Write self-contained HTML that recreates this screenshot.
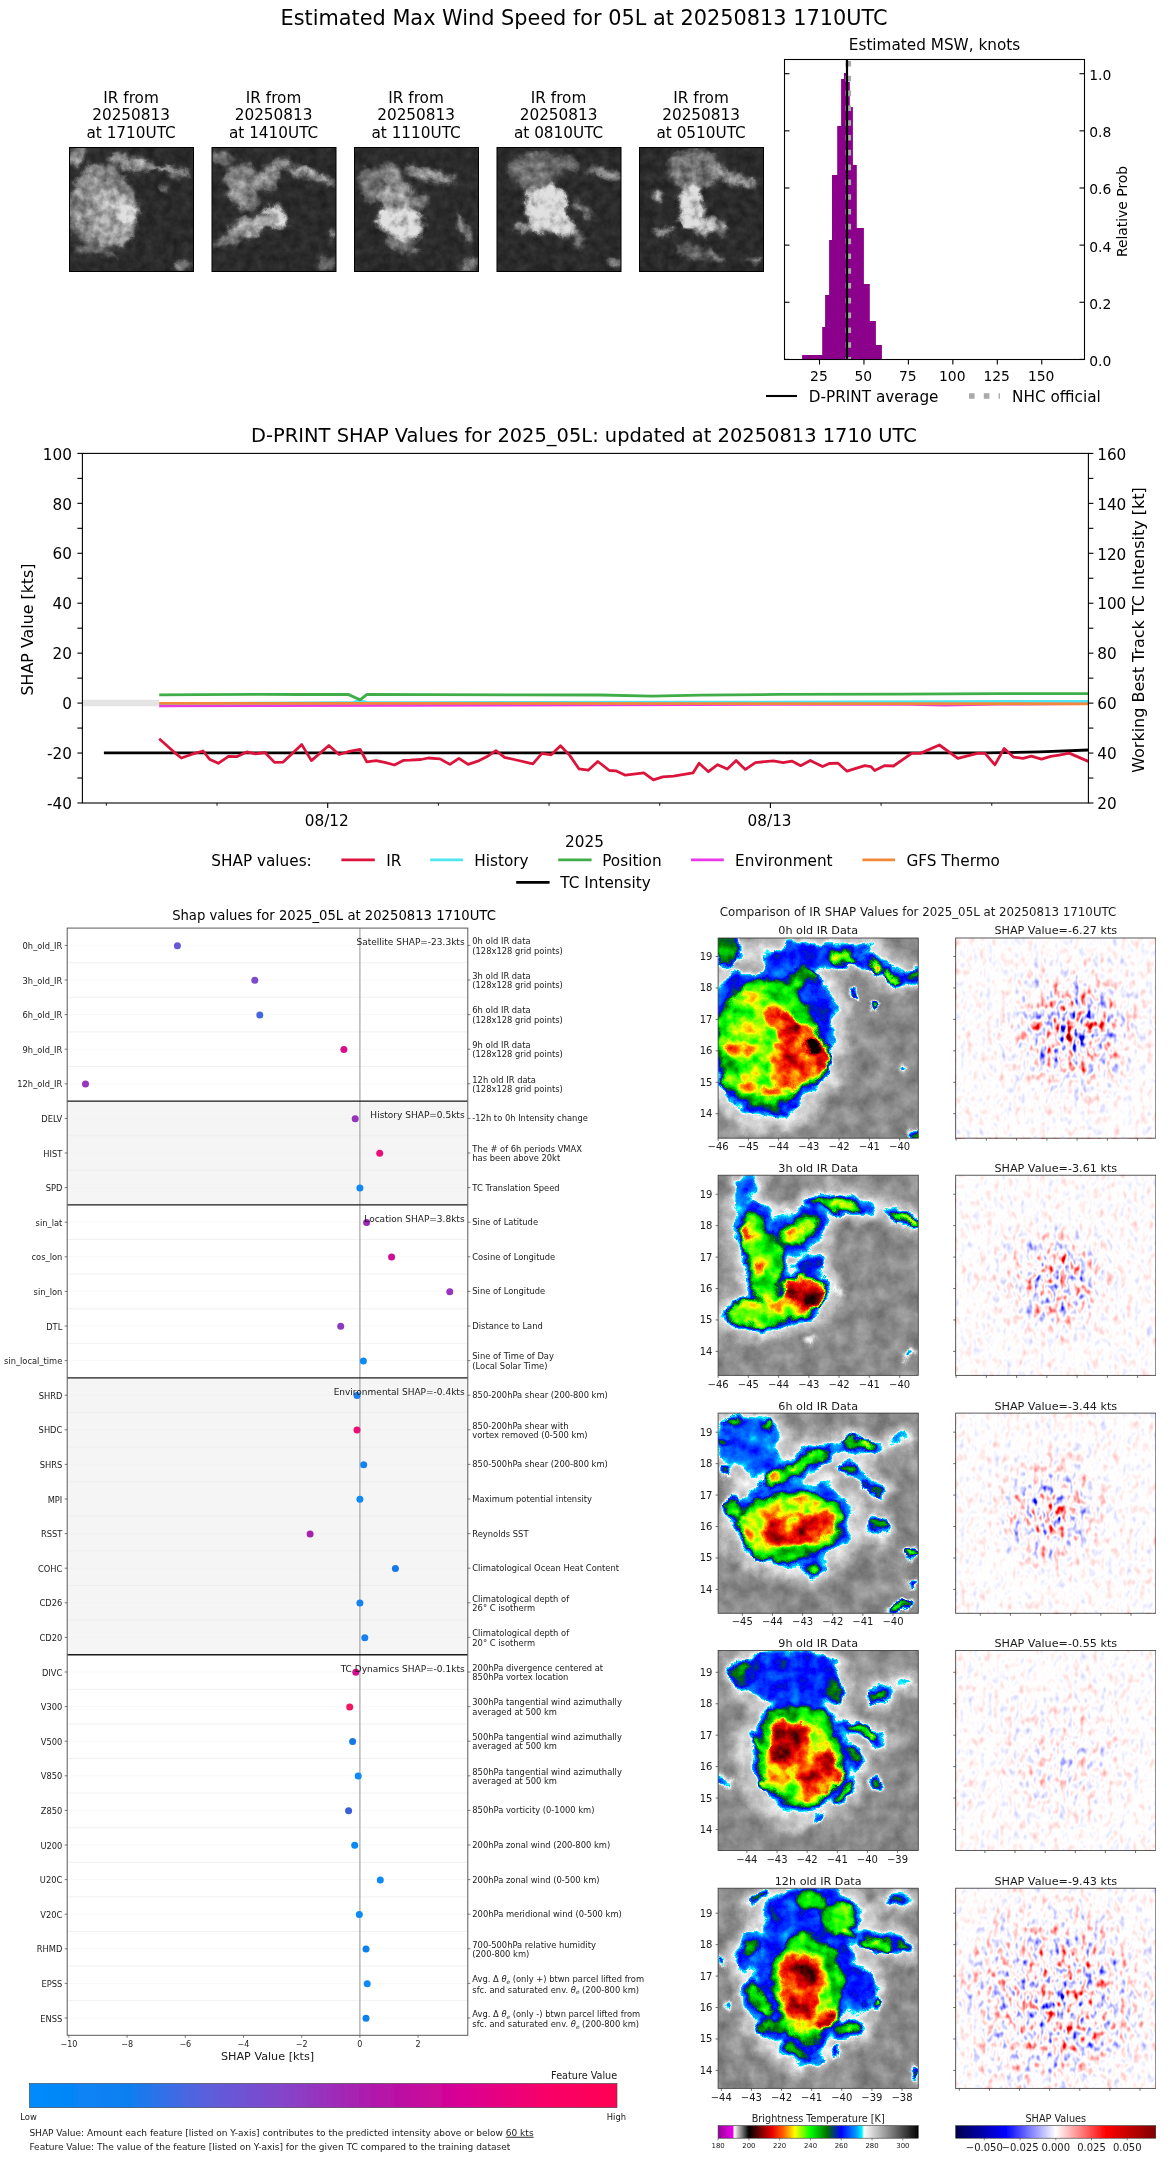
<!DOCTYPE html>
<html lang="en"><head><meta charset="utf-8"><title>D-PRINT 05L</title>
<style>html,body{margin:0;padding:0;background:#fff}svg{display:block}text{font-family:'DejaVu Sans','Liberation Sans',sans-serif}#s3,#s4{filter:url(#soft)}</style></head>
<body><svg width="1168" height="2158" viewBox="0 0 1168 2158">
<defs><filter id="soft" x="0" y="0" width="1" height="1"><feGaussianBlur stdDeviation="0.35"/></filter>
<filter id="th0" x="0" y="0" width="1" height="1" filterUnits="objectBoundingBox" color-interpolation-filters="sRGB">
<feTurbulence type="fractalNoise" baseFrequency="0.035" numOctaves="3" seed="11" result="t1"/>
<feGaussianBlur in="SourceGraphic" stdDeviation="2.2" result="b"/>
<feDisplacementMap in="b" in2="t1" scale="14" xChannelSelector="R" yChannelSelector="G" result="d0"/>
<feTurbulence type="fractalNoise" baseFrequency="0.12" numOctaves="2" seed="50" result="t3"/>
<feDisplacementMap in="d0" in2="t3" scale="8" xChannelSelector="G" yChannelSelector="B" result="d"/>
<feTurbulence type="fractalNoise" baseFrequency="0.11" numOctaves="4" seed="3" result="t2"/>
<feColorMatrix in="t2" type="matrix" values="1 0 0 0 0  1 0 0 0 0  1 0 0 0 0  0 0 0 0 1" result="n"/>
<feComposite in="d" in2="n" operator="arithmetic" k1="1.0" k2="0.40" k3="0.03" k4="0.06" result="c"/>
<feComponentTransfer in="c"><feFuncR type="table" tableValues="0.02 0.1 0.2 0.3 0.4 0.5 0.6 0.7 0.78 0.84 0.88"/><feFuncG type="table" tableValues="0.02 0.1 0.2 0.3 0.4 0.5 0.6 0.7 0.78 0.84 0.88"/><feFuncB type="table" tableValues="0.02 0.1 0.2 0.3 0.4 0.5 0.6 0.7 0.78 0.84 0.88"/></feComponentTransfer>
</filter><clipPath id="clth0"><rect x="69.50" y="147.50" width="124.00" height="124.00"/></clipPath>
<filter id="th1" x="0" y="0" width="1" height="1" filterUnits="objectBoundingBox" color-interpolation-filters="sRGB">
<feTurbulence type="fractalNoise" baseFrequency="0.035" numOctaves="3" seed="18" result="t1"/>
<feGaussianBlur in="SourceGraphic" stdDeviation="2.2" result="b"/>
<feDisplacementMap in="b" in2="t1" scale="14" xChannelSelector="R" yChannelSelector="G" result="d0"/>
<feTurbulence type="fractalNoise" baseFrequency="0.12" numOctaves="2" seed="51" result="t3"/>
<feDisplacementMap in="d0" in2="t3" scale="8" xChannelSelector="G" yChannelSelector="B" result="d"/>
<feTurbulence type="fractalNoise" baseFrequency="0.11" numOctaves="4" seed="8" result="t2"/>
<feColorMatrix in="t2" type="matrix" values="1 0 0 0 0  1 0 0 0 0  1 0 0 0 0  0 0 0 0 1" result="n"/>
<feComposite in="d" in2="n" operator="arithmetic" k1="1.0" k2="0.40" k3="0.03" k4="0.06" result="c"/>
<feComponentTransfer in="c"><feFuncR type="table" tableValues="0.02 0.1 0.2 0.3 0.4 0.5 0.6 0.7 0.78 0.84 0.88"/><feFuncG type="table" tableValues="0.02 0.1 0.2 0.3 0.4 0.5 0.6 0.7 0.78 0.84 0.88"/><feFuncB type="table" tableValues="0.02 0.1 0.2 0.3 0.4 0.5 0.6 0.7 0.78 0.84 0.88"/></feComponentTransfer>
</filter><clipPath id="clth1"><rect x="212.00" y="147.50" width="124.00" height="124.00"/></clipPath>
<filter id="th2" x="0" y="0" width="1" height="1" filterUnits="objectBoundingBox" color-interpolation-filters="sRGB">
<feTurbulence type="fractalNoise" baseFrequency="0.035" numOctaves="3" seed="25" result="t1"/>
<feGaussianBlur in="SourceGraphic" stdDeviation="2.2" result="b"/>
<feDisplacementMap in="b" in2="t1" scale="14" xChannelSelector="R" yChannelSelector="G" result="d0"/>
<feTurbulence type="fractalNoise" baseFrequency="0.12" numOctaves="2" seed="52" result="t3"/>
<feDisplacementMap in="d0" in2="t3" scale="8" xChannelSelector="G" yChannelSelector="B" result="d"/>
<feTurbulence type="fractalNoise" baseFrequency="0.11" numOctaves="4" seed="13" result="t2"/>
<feColorMatrix in="t2" type="matrix" values="1 0 0 0 0  1 0 0 0 0  1 0 0 0 0  0 0 0 0 1" result="n"/>
<feComposite in="d" in2="n" operator="arithmetic" k1="1.0" k2="0.40" k3="0.03" k4="0.06" result="c"/>
<feComponentTransfer in="c"><feFuncR type="table" tableValues="0.02 0.1 0.2 0.3 0.4 0.5 0.6 0.7 0.78 0.84 0.88"/><feFuncG type="table" tableValues="0.02 0.1 0.2 0.3 0.4 0.5 0.6 0.7 0.78 0.84 0.88"/><feFuncB type="table" tableValues="0.02 0.1 0.2 0.3 0.4 0.5 0.6 0.7 0.78 0.84 0.88"/></feComponentTransfer>
</filter><clipPath id="clth2"><rect x="354.50" y="147.50" width="124.00" height="124.00"/></clipPath>
<filter id="th3" x="0" y="0" width="1" height="1" filterUnits="objectBoundingBox" color-interpolation-filters="sRGB">
<feTurbulence type="fractalNoise" baseFrequency="0.035" numOctaves="3" seed="32" result="t1"/>
<feGaussianBlur in="SourceGraphic" stdDeviation="2.2" result="b"/>
<feDisplacementMap in="b" in2="t1" scale="14" xChannelSelector="R" yChannelSelector="G" result="d0"/>
<feTurbulence type="fractalNoise" baseFrequency="0.12" numOctaves="2" seed="53" result="t3"/>
<feDisplacementMap in="d0" in2="t3" scale="8" xChannelSelector="G" yChannelSelector="B" result="d"/>
<feTurbulence type="fractalNoise" baseFrequency="0.11" numOctaves="4" seed="18" result="t2"/>
<feColorMatrix in="t2" type="matrix" values="1 0 0 0 0  1 0 0 0 0  1 0 0 0 0  0 0 0 0 1" result="n"/>
<feComposite in="d" in2="n" operator="arithmetic" k1="1.0" k2="0.40" k3="0.03" k4="0.06" result="c"/>
<feComponentTransfer in="c"><feFuncR type="table" tableValues="0.02 0.1 0.2 0.3 0.4 0.5 0.6 0.7 0.78 0.84 0.88"/><feFuncG type="table" tableValues="0.02 0.1 0.2 0.3 0.4 0.5 0.6 0.7 0.78 0.84 0.88"/><feFuncB type="table" tableValues="0.02 0.1 0.2 0.3 0.4 0.5 0.6 0.7 0.78 0.84 0.88"/></feComponentTransfer>
</filter><clipPath id="clth3"><rect x="497.00" y="147.50" width="124.00" height="124.00"/></clipPath>
<filter id="th4" x="0" y="0" width="1" height="1" filterUnits="objectBoundingBox" color-interpolation-filters="sRGB">
<feTurbulence type="fractalNoise" baseFrequency="0.035" numOctaves="3" seed="39" result="t1"/>
<feGaussianBlur in="SourceGraphic" stdDeviation="2.2" result="b"/>
<feDisplacementMap in="b" in2="t1" scale="14" xChannelSelector="R" yChannelSelector="G" result="d0"/>
<feTurbulence type="fractalNoise" baseFrequency="0.12" numOctaves="2" seed="54" result="t3"/>
<feDisplacementMap in="d0" in2="t3" scale="8" xChannelSelector="G" yChannelSelector="B" result="d"/>
<feTurbulence type="fractalNoise" baseFrequency="0.11" numOctaves="4" seed="23" result="t2"/>
<feColorMatrix in="t2" type="matrix" values="1 0 0 0 0  1 0 0 0 0  1 0 0 0 0  0 0 0 0 1" result="n"/>
<feComposite in="d" in2="n" operator="arithmetic" k1="1.0" k2="0.40" k3="0.03" k4="0.06" result="c"/>
<feComponentTransfer in="c"><feFuncR type="table" tableValues="0.02 0.1 0.2 0.3 0.4 0.5 0.6 0.7 0.78 0.84 0.88"/><feFuncG type="table" tableValues="0.02 0.1 0.2 0.3 0.4 0.5 0.6 0.7 0.78 0.84 0.88"/><feFuncB type="table" tableValues="0.02 0.1 0.2 0.3 0.4 0.5 0.6 0.7 0.78 0.84 0.88"/></feComponentTransfer>
</filter><clipPath id="clth4"><rect x="639.50" y="147.50" width="124.00" height="124.00"/></clipPath>

<linearGradient id="fv" x1="0" x2="1" y1="0" y2="0"><stop offset="0" stop-color="#008bfb"/><stop offset="0.17" stop-color="#0e7ef0"/><stop offset="0.3" stop-color="#5b5fdc"/><stop offset="0.45" stop-color="#8a40c6"/><stop offset="0.6" stop-color="#b414a8"/><stop offset="0.75" stop-color="#dc0090"/><stop offset="0.88" stop-color="#f80068"/><stop offset="1" stop-color="#ff0052"/></linearGradient>
<filter id="hb" x="-0.3" y="-0.3" width="1.6" height="1.6" color-interpolation-filters="sRGB"><feGaussianBlur stdDeviation="5"/></filter>
<filter id="ir0" x="0" y="0" width="1" height="1" color-interpolation-filters="sRGB">
<feTurbulence type="fractalNoise" baseFrequency="0.022" numOctaves="3" seed="21" result="t1"/>
<feGaussianBlur in="SourceGraphic" stdDeviation="2.0" result="b"/>
<feDisplacementMap in="b" in2="t1" scale="20" xChannelSelector="R" yChannelSelector="G" result="d0"/>
<feTurbulence type="fractalNoise" baseFrequency="0.075" numOctaves="2" seed="70" result="t3"/>
<feDisplacementMap in="d0" in2="t3" scale="11" xChannelSelector="G" yChannelSelector="B" result="d"/>
<feTurbulence type="fractalNoise" baseFrequency="0.055" numOctaves="5" seed="5" result="t2"/>
<feColorMatrix in="t2" type="matrix" values="1 0 0 0 0  1 0 0 0 0  1 0 0 0 0  0 0 0 0 1" result="n"/>
<feComposite in="d" in2="n" operator="arithmetic" k1="0.36" k2="0.82" k3="0.035" k4="-0.0175" result="c"/>
<feComponentTransfer in="c"><feFuncR type="table" tableValues="0.000 0.035 0.071 0.106 0.141 0.177 0.212 0.247 0.282 0.318 0.353 0.388 0.424 0.459 0.494 0.530 0.565 0.600 0.636 0.671 0.706 0.742 0.777 0.812 0.847 0.883 0.918 0.953 0.989 0.150 0.000 0.000 0.000 0.000 0.000 0.000 0.000 0.000 0.000 0.000 0.000 0.000 0.000 0.000 0.000 0.000 0.000 0.000 0.000 0.000 0.000 0.000 0.000 0.000 0.000 0.000 0.000 0.125 0.250 0.375 0.500 0.625 0.750 0.875 1.000 1.000 1.000 1.000 1.000 1.000 1.000 0.992 0.978 0.964 0.950 0.936 0.922 0.845 0.768 0.692 0.615 0.539 0.462 0.385 0.308 0.231 0.154 0.077 0.031 0.031 0.031 0.031 0.031 0.031 0.031 0.031 0.031 0.031 0.031 0.031 0.031 0.031 0.031 0.031 0.031"/><feFuncG type="table" tableValues="0.000 0.035 0.071 0.106 0.141 0.177 0.212 0.247 0.282 0.318 0.353 0.388 0.424 0.459 0.494 0.530 0.565 0.600 0.636 0.671 0.706 0.742 0.777 0.812 0.847 0.883 0.918 0.953 0.989 1.000 0.886 0.757 0.627 0.549 0.471 0.392 0.314 0.235 0.157 0.078 0.000 0.060 0.120 0.180 0.240 0.300 0.359 0.419 0.483 0.548 0.612 0.677 0.742 0.806 0.871 0.935 1.000 1.000 1.000 1.000 1.000 1.000 1.000 1.000 1.000 0.899 0.798 0.697 0.596 0.494 0.393 0.315 0.252 0.189 0.126 0.063 0.000 0.000 0.000 0.000 0.000 0.000 0.000 0.000 0.000 0.000 0.000 0.000 0.000 0.000 0.000 0.000 0.000 0.000 0.000 0.000 0.000 0.000 0.000 0.000 0.000 0.000 0.000 0.000 0.000"/><feFuncB type="table" tableValues="0.000 0.035 0.071 0.106 0.141 0.177 0.212 0.247 0.282 0.318 0.353 0.388 0.424 0.459 0.494 0.530 0.565 0.600 0.636 0.671 0.706 0.742 0.777 0.812 0.847 0.883 0.918 0.953 0.989 1.000 1.000 1.000 1.000 1.000 1.000 1.000 1.000 1.000 1.000 1.000 1.000 0.861 0.722 0.583 0.444 0.306 0.167 0.028 0.000 0.000 0.000 0.000 0.000 0.000 0.000 0.000 0.000 0.000 0.000 0.000 0.000 0.000 0.000 0.000 0.000 0.000 0.000 0.000 0.000 0.000 0.000 0.000 0.000 0.000 0.000 0.000 0.000 0.000 0.000 0.000 0.000 0.000 0.000 0.000 0.000 0.000 0.000 0.000 0.000 0.000 0.000 0.000 0.000 0.000 0.000 0.000 0.000 0.000 0.000 0.000 0.000 0.000 0.000 0.000 0.000"/></feComponentTransfer>
</filter><clipPath id="clir0"><rect x="718.10" y="938.00" width="200.15" height="200.15"/></clipPath>
<radialGradient id="rgsh0" cx="0.58" cy="0.46" r="0.44"><stop offset="0" stop-color="#e7e7e7"/><stop offset="0.35" stop-color="#8b8b8b"/><stop offset="0.7" stop-color="#252525"/><stop offset="1" stop-color="#000"/></radialGradient>
<filter id="sh0" x="0" y="0" width="1" height="1" color-interpolation-filters="sRGB">
<feTurbulence type="fractalNoise" baseFrequency="0.15 0.095" numOctaves="2" seed="40" result="t"/>
<feColorMatrix in="t" type="matrix" values="1 0 0 0 0  1 0 0 0 0  1 0 0 0 0  0 0 0 0 1" result="n"/>
<feComposite in="n" in2="SourceGraphic" operator="arithmetic" k1="1.35" k2="0.36" k3="-0.675" k4="0.330" result="c"/>
<feComponentTransfer in="c"><feFuncR type="table" tableValues="0.000 0.000 0.000 0.000 0.000 0.000 0.000 0.000 0.000 0.000 0.000 0.000 0.000 0.014 0.079 0.142 0.203 0.261 0.318 0.373 0.426 0.476 0.525 0.571 0.616 0.658 0.698 0.736 0.771 0.804 0.835 0.864 0.890 0.913 0.934 0.953 0.968 0.981 0.991 0.997 1.000 1.000 1.000 1.000 1.000 1.000 1.000 1.000 1.000 1.000 1.000 1.000 1.000 1.000 1.000 1.000 1.000 1.000 1.000 1.000 1.000 1.000 1.000 1.000 1.000 1.000 1.000 1.000 0.974 0.940 0.905 0.868 0.831 0.793 0.755 0.715 0.674 0.632 0.590 0.546 0.502"/><feFuncG type="table" tableValues="0.000 0.000 0.000 0.000 0.000 0.000 0.000 0.000 0.000 0.000 0.000 0.000 0.000 0.014 0.079 0.142 0.203 0.261 0.318 0.373 0.426 0.476 0.525 0.571 0.616 0.658 0.698 0.736 0.771 0.804 0.835 0.864 0.890 0.913 0.934 0.953 0.968 0.981 0.991 0.997 1.000 0.997 0.991 0.981 0.968 0.953 0.934 0.913 0.890 0.864 0.835 0.804 0.771 0.736 0.698 0.658 0.616 0.571 0.525 0.476 0.426 0.373 0.318 0.261 0.203 0.142 0.079 0.014 0.000 0.000 0.000 0.000 0.000 0.000 0.000 0.000 0.000 0.000 0.000 0.000 0.000"/><feFuncB type="table" tableValues="0.298 0.361 0.422 0.482 0.541 0.598 0.654 0.709 0.762 0.815 0.865 0.915 0.963 1.000 1.000 1.000 1.000 1.000 1.000 1.000 1.000 1.000 1.000 1.000 1.000 1.000 1.000 1.000 1.000 1.000 1.000 1.000 1.000 1.000 1.000 1.000 1.000 1.000 1.000 1.000 1.000 0.997 0.991 0.981 0.968 0.953 0.934 0.913 0.890 0.864 0.835 0.804 0.771 0.736 0.698 0.658 0.616 0.571 0.525 0.476 0.426 0.373 0.318 0.261 0.203 0.142 0.079 0.014 0.000 0.000 0.000 0.000 0.000 0.000 0.000 0.000 0.000 0.000 0.000 0.000 0.000"/></feComponentTransfer>
</filter>
<filter id="ir1" x="0" y="0" width="1" height="1" color-interpolation-filters="sRGB">
<feTurbulence type="fractalNoise" baseFrequency="0.022" numOctaves="3" seed="24" result="t1"/>
<feGaussianBlur in="SourceGraphic" stdDeviation="2.0" result="b"/>
<feDisplacementMap in="b" in2="t1" scale="20" xChannelSelector="R" yChannelSelector="G" result="d0"/>
<feTurbulence type="fractalNoise" baseFrequency="0.075" numOctaves="2" seed="73" result="t3"/>
<feDisplacementMap in="d0" in2="t3" scale="11" xChannelSelector="G" yChannelSelector="B" result="d"/>
<feTurbulence type="fractalNoise" baseFrequency="0.055" numOctaves="5" seed="14" result="t2"/>
<feColorMatrix in="t2" type="matrix" values="1 0 0 0 0  1 0 0 0 0  1 0 0 0 0  0 0 0 0 1" result="n"/>
<feComposite in="d" in2="n" operator="arithmetic" k1="0.36" k2="0.82" k3="0.035" k4="-0.0175" result="c"/>
<feComponentTransfer in="c"><feFuncR type="table" tableValues="0.000 0.035 0.071 0.106 0.141 0.177 0.212 0.247 0.282 0.318 0.353 0.388 0.424 0.459 0.494 0.530 0.565 0.600 0.636 0.671 0.706 0.742 0.777 0.812 0.847 0.883 0.918 0.953 0.989 0.150 0.000 0.000 0.000 0.000 0.000 0.000 0.000 0.000 0.000 0.000 0.000 0.000 0.000 0.000 0.000 0.000 0.000 0.000 0.000 0.000 0.000 0.000 0.000 0.000 0.000 0.000 0.000 0.125 0.250 0.375 0.500 0.625 0.750 0.875 1.000 1.000 1.000 1.000 1.000 1.000 1.000 0.992 0.978 0.964 0.950 0.936 0.922 0.845 0.768 0.692 0.615 0.539 0.462 0.385 0.308 0.231 0.154 0.077 0.031 0.031 0.031 0.031 0.031 0.031 0.031 0.031 0.031 0.031 0.031 0.031 0.031 0.031 0.031 0.031 0.031"/><feFuncG type="table" tableValues="0.000 0.035 0.071 0.106 0.141 0.177 0.212 0.247 0.282 0.318 0.353 0.388 0.424 0.459 0.494 0.530 0.565 0.600 0.636 0.671 0.706 0.742 0.777 0.812 0.847 0.883 0.918 0.953 0.989 1.000 0.886 0.757 0.627 0.549 0.471 0.392 0.314 0.235 0.157 0.078 0.000 0.060 0.120 0.180 0.240 0.300 0.359 0.419 0.483 0.548 0.612 0.677 0.742 0.806 0.871 0.935 1.000 1.000 1.000 1.000 1.000 1.000 1.000 1.000 1.000 0.899 0.798 0.697 0.596 0.494 0.393 0.315 0.252 0.189 0.126 0.063 0.000 0.000 0.000 0.000 0.000 0.000 0.000 0.000 0.000 0.000 0.000 0.000 0.000 0.000 0.000 0.000 0.000 0.000 0.000 0.000 0.000 0.000 0.000 0.000 0.000 0.000 0.000 0.000 0.000"/><feFuncB type="table" tableValues="0.000 0.035 0.071 0.106 0.141 0.177 0.212 0.247 0.282 0.318 0.353 0.388 0.424 0.459 0.494 0.530 0.565 0.600 0.636 0.671 0.706 0.742 0.777 0.812 0.847 0.883 0.918 0.953 0.989 1.000 1.000 1.000 1.000 1.000 1.000 1.000 1.000 1.000 1.000 1.000 1.000 0.861 0.722 0.583 0.444 0.306 0.167 0.028 0.000 0.000 0.000 0.000 0.000 0.000 0.000 0.000 0.000 0.000 0.000 0.000 0.000 0.000 0.000 0.000 0.000 0.000 0.000 0.000 0.000 0.000 0.000 0.000 0.000 0.000 0.000 0.000 0.000 0.000 0.000 0.000 0.000 0.000 0.000 0.000 0.000 0.000 0.000 0.000 0.000 0.000 0.000 0.000 0.000 0.000 0.000 0.000 0.000 0.000 0.000 0.000 0.000 0.000 0.000 0.000 0.000"/></feComponentTransfer>
</filter><clipPath id="clir1"><rect x="718.10" y="1175.20" width="200.15" height="200.15"/></clipPath>
<radialGradient id="rgsh1" cx="0.5" cy="0.52" r="0.36"><stop offset="0" stop-color="#d0d0d0"/><stop offset="0.35" stop-color="#7d7d7d"/><stop offset="0.7" stop-color="#212121"/><stop offset="1" stop-color="#000"/></radialGradient>
<filter id="sh1" x="0" y="0" width="1" height="1" color-interpolation-filters="sRGB">
<feTurbulence type="fractalNoise" baseFrequency="0.15 0.095" numOctaves="2" seed="44" result="t"/>
<feColorMatrix in="t" type="matrix" values="1 0 0 0 0  1 0 0 0 0  1 0 0 0 0  0 0 0 0 1" result="n"/>
<feComposite in="n" in2="SourceGraphic" operator="arithmetic" k1="1.35" k2="0.36" k3="-0.675" k4="0.330" result="c"/>
<feComponentTransfer in="c"><feFuncR type="table" tableValues="0.000 0.000 0.000 0.000 0.000 0.000 0.000 0.000 0.000 0.000 0.000 0.000 0.000 0.014 0.079 0.142 0.203 0.261 0.318 0.373 0.426 0.476 0.525 0.571 0.616 0.658 0.698 0.736 0.771 0.804 0.835 0.864 0.890 0.913 0.934 0.953 0.968 0.981 0.991 0.997 1.000 1.000 1.000 1.000 1.000 1.000 1.000 1.000 1.000 1.000 1.000 1.000 1.000 1.000 1.000 1.000 1.000 1.000 1.000 1.000 1.000 1.000 1.000 1.000 1.000 1.000 1.000 1.000 0.974 0.940 0.905 0.868 0.831 0.793 0.755 0.715 0.674 0.632 0.590 0.546 0.502"/><feFuncG type="table" tableValues="0.000 0.000 0.000 0.000 0.000 0.000 0.000 0.000 0.000 0.000 0.000 0.000 0.000 0.014 0.079 0.142 0.203 0.261 0.318 0.373 0.426 0.476 0.525 0.571 0.616 0.658 0.698 0.736 0.771 0.804 0.835 0.864 0.890 0.913 0.934 0.953 0.968 0.981 0.991 0.997 1.000 0.997 0.991 0.981 0.968 0.953 0.934 0.913 0.890 0.864 0.835 0.804 0.771 0.736 0.698 0.658 0.616 0.571 0.525 0.476 0.426 0.373 0.318 0.261 0.203 0.142 0.079 0.014 0.000 0.000 0.000 0.000 0.000 0.000 0.000 0.000 0.000 0.000 0.000 0.000 0.000"/><feFuncB type="table" tableValues="0.298 0.361 0.422 0.482 0.541 0.598 0.654 0.709 0.762 0.815 0.865 0.915 0.963 1.000 1.000 1.000 1.000 1.000 1.000 1.000 1.000 1.000 1.000 1.000 1.000 1.000 1.000 1.000 1.000 1.000 1.000 1.000 1.000 1.000 1.000 1.000 1.000 1.000 1.000 1.000 1.000 0.997 0.991 0.981 0.968 0.953 0.934 0.913 0.890 0.864 0.835 0.804 0.771 0.736 0.698 0.658 0.616 0.571 0.525 0.476 0.426 0.373 0.318 0.261 0.203 0.142 0.079 0.014 0.000 0.000 0.000 0.000 0.000 0.000 0.000 0.000 0.000 0.000 0.000 0.000 0.000"/></feComponentTransfer>
</filter>
<filter id="ir2" x="0" y="0" width="1" height="1" color-interpolation-filters="sRGB">
<feTurbulence type="fractalNoise" baseFrequency="0.022" numOctaves="3" seed="27" result="t1"/>
<feGaussianBlur in="SourceGraphic" stdDeviation="2.0" result="b"/>
<feDisplacementMap in="b" in2="t1" scale="20" xChannelSelector="R" yChannelSelector="G" result="d0"/>
<feTurbulence type="fractalNoise" baseFrequency="0.075" numOctaves="2" seed="76" result="t3"/>
<feDisplacementMap in="d0" in2="t3" scale="11" xChannelSelector="G" yChannelSelector="B" result="d"/>
<feTurbulence type="fractalNoise" baseFrequency="0.055" numOctaves="5" seed="23" result="t2"/>
<feColorMatrix in="t2" type="matrix" values="1 0 0 0 0  1 0 0 0 0  1 0 0 0 0  0 0 0 0 1" result="n"/>
<feComposite in="d" in2="n" operator="arithmetic" k1="0.36" k2="0.82" k3="0.035" k4="-0.0175" result="c"/>
<feComponentTransfer in="c"><feFuncR type="table" tableValues="0.000 0.035 0.071 0.106 0.141 0.177 0.212 0.247 0.282 0.318 0.353 0.388 0.424 0.459 0.494 0.530 0.565 0.600 0.636 0.671 0.706 0.742 0.777 0.812 0.847 0.883 0.918 0.953 0.989 0.150 0.000 0.000 0.000 0.000 0.000 0.000 0.000 0.000 0.000 0.000 0.000 0.000 0.000 0.000 0.000 0.000 0.000 0.000 0.000 0.000 0.000 0.000 0.000 0.000 0.000 0.000 0.000 0.125 0.250 0.375 0.500 0.625 0.750 0.875 1.000 1.000 1.000 1.000 1.000 1.000 1.000 0.992 0.978 0.964 0.950 0.936 0.922 0.845 0.768 0.692 0.615 0.539 0.462 0.385 0.308 0.231 0.154 0.077 0.031 0.031 0.031 0.031 0.031 0.031 0.031 0.031 0.031 0.031 0.031 0.031 0.031 0.031 0.031 0.031 0.031"/><feFuncG type="table" tableValues="0.000 0.035 0.071 0.106 0.141 0.177 0.212 0.247 0.282 0.318 0.353 0.388 0.424 0.459 0.494 0.530 0.565 0.600 0.636 0.671 0.706 0.742 0.777 0.812 0.847 0.883 0.918 0.953 0.989 1.000 0.886 0.757 0.627 0.549 0.471 0.392 0.314 0.235 0.157 0.078 0.000 0.060 0.120 0.180 0.240 0.300 0.359 0.419 0.483 0.548 0.612 0.677 0.742 0.806 0.871 0.935 1.000 1.000 1.000 1.000 1.000 1.000 1.000 1.000 1.000 0.899 0.798 0.697 0.596 0.494 0.393 0.315 0.252 0.189 0.126 0.063 0.000 0.000 0.000 0.000 0.000 0.000 0.000 0.000 0.000 0.000 0.000 0.000 0.000 0.000 0.000 0.000 0.000 0.000 0.000 0.000 0.000 0.000 0.000 0.000 0.000 0.000 0.000 0.000 0.000"/><feFuncB type="table" tableValues="0.000 0.035 0.071 0.106 0.141 0.177 0.212 0.247 0.282 0.318 0.353 0.388 0.424 0.459 0.494 0.530 0.565 0.600 0.636 0.671 0.706 0.742 0.777 0.812 0.847 0.883 0.918 0.953 0.989 1.000 1.000 1.000 1.000 1.000 1.000 1.000 1.000 1.000 1.000 1.000 1.000 0.861 0.722 0.583 0.444 0.306 0.167 0.028 0.000 0.000 0.000 0.000 0.000 0.000 0.000 0.000 0.000 0.000 0.000 0.000 0.000 0.000 0.000 0.000 0.000 0.000 0.000 0.000 0.000 0.000 0.000 0.000 0.000 0.000 0.000 0.000 0.000 0.000 0.000 0.000 0.000 0.000 0.000 0.000 0.000 0.000 0.000 0.000 0.000 0.000 0.000 0.000 0.000 0.000 0.000 0.000 0.000 0.000 0.000 0.000 0.000 0.000 0.000 0.000 0.000"/></feComponentTransfer>
</filter><clipPath id="clir2"><rect x="718.10" y="1413.10" width="200.15" height="200.15"/></clipPath>
<radialGradient id="rgsh2" cx="0.47" cy="0.5" r="0.38"><stop offset="0" stop-color="#c5c5c5"/><stop offset="0.35" stop-color="#767676"/><stop offset="0.7" stop-color="#1f1f1f"/><stop offset="1" stop-color="#000"/></radialGradient>
<filter id="sh2" x="0" y="0" width="1" height="1" color-interpolation-filters="sRGB">
<feTurbulence type="fractalNoise" baseFrequency="0.15 0.095" numOctaves="2" seed="48" result="t"/>
<feColorMatrix in="t" type="matrix" values="1 0 0 0 0  1 0 0 0 0  1 0 0 0 0  0 0 0 0 1" result="n"/>
<feComposite in="n" in2="SourceGraphic" operator="arithmetic" k1="1.35" k2="0.36" k3="-0.675" k4="0.330" result="c"/>
<feComponentTransfer in="c"><feFuncR type="table" tableValues="0.000 0.000 0.000 0.000 0.000 0.000 0.000 0.000 0.000 0.000 0.000 0.000 0.000 0.014 0.079 0.142 0.203 0.261 0.318 0.373 0.426 0.476 0.525 0.571 0.616 0.658 0.698 0.736 0.771 0.804 0.835 0.864 0.890 0.913 0.934 0.953 0.968 0.981 0.991 0.997 1.000 1.000 1.000 1.000 1.000 1.000 1.000 1.000 1.000 1.000 1.000 1.000 1.000 1.000 1.000 1.000 1.000 1.000 1.000 1.000 1.000 1.000 1.000 1.000 1.000 1.000 1.000 1.000 0.974 0.940 0.905 0.868 0.831 0.793 0.755 0.715 0.674 0.632 0.590 0.546 0.502"/><feFuncG type="table" tableValues="0.000 0.000 0.000 0.000 0.000 0.000 0.000 0.000 0.000 0.000 0.000 0.000 0.000 0.014 0.079 0.142 0.203 0.261 0.318 0.373 0.426 0.476 0.525 0.571 0.616 0.658 0.698 0.736 0.771 0.804 0.835 0.864 0.890 0.913 0.934 0.953 0.968 0.981 0.991 0.997 1.000 0.997 0.991 0.981 0.968 0.953 0.934 0.913 0.890 0.864 0.835 0.804 0.771 0.736 0.698 0.658 0.616 0.571 0.525 0.476 0.426 0.373 0.318 0.261 0.203 0.142 0.079 0.014 0.000 0.000 0.000 0.000 0.000 0.000 0.000 0.000 0.000 0.000 0.000 0.000 0.000"/><feFuncB type="table" tableValues="0.298 0.361 0.422 0.482 0.541 0.598 0.654 0.709 0.762 0.815 0.865 0.915 0.963 1.000 1.000 1.000 1.000 1.000 1.000 1.000 1.000 1.000 1.000 1.000 1.000 1.000 1.000 1.000 1.000 1.000 1.000 1.000 1.000 1.000 1.000 1.000 1.000 1.000 1.000 1.000 1.000 0.997 0.991 0.981 0.968 0.953 0.934 0.913 0.890 0.864 0.835 0.804 0.771 0.736 0.698 0.658 0.616 0.571 0.525 0.476 0.426 0.373 0.318 0.261 0.203 0.142 0.079 0.014 0.000 0.000 0.000 0.000 0.000 0.000 0.000 0.000 0.000 0.000 0.000 0.000 0.000"/></feComponentTransfer>
</filter>
<filter id="ir3" x="0" y="0" width="1" height="1" color-interpolation-filters="sRGB">
<feTurbulence type="fractalNoise" baseFrequency="0.022" numOctaves="3" seed="30" result="t1"/>
<feGaussianBlur in="SourceGraphic" stdDeviation="2.0" result="b"/>
<feDisplacementMap in="b" in2="t1" scale="20" xChannelSelector="R" yChannelSelector="G" result="d0"/>
<feTurbulence type="fractalNoise" baseFrequency="0.075" numOctaves="2" seed="79" result="t3"/>
<feDisplacementMap in="d0" in2="t3" scale="11" xChannelSelector="G" yChannelSelector="B" result="d"/>
<feTurbulence type="fractalNoise" baseFrequency="0.055" numOctaves="5" seed="32" result="t2"/>
<feColorMatrix in="t2" type="matrix" values="1 0 0 0 0  1 0 0 0 0  1 0 0 0 0  0 0 0 0 1" result="n"/>
<feComposite in="d" in2="n" operator="arithmetic" k1="0.36" k2="0.82" k3="0.035" k4="-0.0175" result="c"/>
<feComponentTransfer in="c"><feFuncR type="table" tableValues="0.000 0.035 0.071 0.106 0.141 0.177 0.212 0.247 0.282 0.318 0.353 0.388 0.424 0.459 0.494 0.530 0.565 0.600 0.636 0.671 0.706 0.742 0.777 0.812 0.847 0.883 0.918 0.953 0.989 0.150 0.000 0.000 0.000 0.000 0.000 0.000 0.000 0.000 0.000 0.000 0.000 0.000 0.000 0.000 0.000 0.000 0.000 0.000 0.000 0.000 0.000 0.000 0.000 0.000 0.000 0.000 0.000 0.125 0.250 0.375 0.500 0.625 0.750 0.875 1.000 1.000 1.000 1.000 1.000 1.000 1.000 0.992 0.978 0.964 0.950 0.936 0.922 0.845 0.768 0.692 0.615 0.539 0.462 0.385 0.308 0.231 0.154 0.077 0.031 0.031 0.031 0.031 0.031 0.031 0.031 0.031 0.031 0.031 0.031 0.031 0.031 0.031 0.031 0.031 0.031"/><feFuncG type="table" tableValues="0.000 0.035 0.071 0.106 0.141 0.177 0.212 0.247 0.282 0.318 0.353 0.388 0.424 0.459 0.494 0.530 0.565 0.600 0.636 0.671 0.706 0.742 0.777 0.812 0.847 0.883 0.918 0.953 0.989 1.000 0.886 0.757 0.627 0.549 0.471 0.392 0.314 0.235 0.157 0.078 0.000 0.060 0.120 0.180 0.240 0.300 0.359 0.419 0.483 0.548 0.612 0.677 0.742 0.806 0.871 0.935 1.000 1.000 1.000 1.000 1.000 1.000 1.000 1.000 1.000 0.899 0.798 0.697 0.596 0.494 0.393 0.315 0.252 0.189 0.126 0.063 0.000 0.000 0.000 0.000 0.000 0.000 0.000 0.000 0.000 0.000 0.000 0.000 0.000 0.000 0.000 0.000 0.000 0.000 0.000 0.000 0.000 0.000 0.000 0.000 0.000 0.000 0.000 0.000 0.000"/><feFuncB type="table" tableValues="0.000 0.035 0.071 0.106 0.141 0.177 0.212 0.247 0.282 0.318 0.353 0.388 0.424 0.459 0.494 0.530 0.565 0.600 0.636 0.671 0.706 0.742 0.777 0.812 0.847 0.883 0.918 0.953 0.989 1.000 1.000 1.000 1.000 1.000 1.000 1.000 1.000 1.000 1.000 1.000 1.000 0.861 0.722 0.583 0.444 0.306 0.167 0.028 0.000 0.000 0.000 0.000 0.000 0.000 0.000 0.000 0.000 0.000 0.000 0.000 0.000 0.000 0.000 0.000 0.000 0.000 0.000 0.000 0.000 0.000 0.000 0.000 0.000 0.000 0.000 0.000 0.000 0.000 0.000 0.000 0.000 0.000 0.000 0.000 0.000 0.000 0.000 0.000 0.000 0.000 0.000 0.000 0.000 0.000 0.000 0.000 0.000 0.000 0.000 0.000 0.000 0.000 0.000 0.000 0.000"/></feComponentTransfer>
</filter><clipPath id="clir3"><rect x="718.10" y="1650.40" width="200.15" height="200.15"/></clipPath>
<radialGradient id="rgsh3" cx="0.55" cy="0.55" r="0.45"><stop offset="0" stop-color="#454545"/><stop offset="0.35" stop-color="#292929"/><stop offset="0.7" stop-color="#0b0b0b"/><stop offset="1" stop-color="#000"/></radialGradient>
<filter id="sh3" x="0" y="0" width="1" height="1" color-interpolation-filters="sRGB">
<feTurbulence type="fractalNoise" baseFrequency="0.15 0.095" numOctaves="2" seed="52" result="t"/>
<feColorMatrix in="t" type="matrix" values="1 0 0 0 0  1 0 0 0 0  1 0 0 0 0  0 0 0 0 1" result="n"/>
<feComposite in="n" in2="SourceGraphic" operator="arithmetic" k1="1.35" k2="0.36" k3="-0.675" k4="0.330" result="c"/>
<feComponentTransfer in="c"><feFuncR type="table" tableValues="0.000 0.000 0.000 0.000 0.000 0.000 0.000 0.000 0.000 0.000 0.000 0.000 0.000 0.014 0.079 0.142 0.203 0.261 0.318 0.373 0.426 0.476 0.525 0.571 0.616 0.658 0.698 0.736 0.771 0.804 0.835 0.864 0.890 0.913 0.934 0.953 0.968 0.981 0.991 0.997 1.000 1.000 1.000 1.000 1.000 1.000 1.000 1.000 1.000 1.000 1.000 1.000 1.000 1.000 1.000 1.000 1.000 1.000 1.000 1.000 1.000 1.000 1.000 1.000 1.000 1.000 1.000 1.000 0.974 0.940 0.905 0.868 0.831 0.793 0.755 0.715 0.674 0.632 0.590 0.546 0.502"/><feFuncG type="table" tableValues="0.000 0.000 0.000 0.000 0.000 0.000 0.000 0.000 0.000 0.000 0.000 0.000 0.000 0.014 0.079 0.142 0.203 0.261 0.318 0.373 0.426 0.476 0.525 0.571 0.616 0.658 0.698 0.736 0.771 0.804 0.835 0.864 0.890 0.913 0.934 0.953 0.968 0.981 0.991 0.997 1.000 0.997 0.991 0.981 0.968 0.953 0.934 0.913 0.890 0.864 0.835 0.804 0.771 0.736 0.698 0.658 0.616 0.571 0.525 0.476 0.426 0.373 0.318 0.261 0.203 0.142 0.079 0.014 0.000 0.000 0.000 0.000 0.000 0.000 0.000 0.000 0.000 0.000 0.000 0.000 0.000"/><feFuncB type="table" tableValues="0.298 0.361 0.422 0.482 0.541 0.598 0.654 0.709 0.762 0.815 0.865 0.915 0.963 1.000 1.000 1.000 1.000 1.000 1.000 1.000 1.000 1.000 1.000 1.000 1.000 1.000 1.000 1.000 1.000 1.000 1.000 1.000 1.000 1.000 1.000 1.000 1.000 1.000 1.000 1.000 1.000 0.997 0.991 0.981 0.968 0.953 0.934 0.913 0.890 0.864 0.835 0.804 0.771 0.736 0.698 0.658 0.616 0.571 0.525 0.476 0.426 0.373 0.318 0.261 0.203 0.142 0.079 0.014 0.000 0.000 0.000 0.000 0.000 0.000 0.000 0.000 0.000 0.000 0.000 0.000 0.000"/></feComponentTransfer>
</filter>
<filter id="ir4" x="0" y="0" width="1" height="1" color-interpolation-filters="sRGB">
<feTurbulence type="fractalNoise" baseFrequency="0.022" numOctaves="3" seed="33" result="t1"/>
<feGaussianBlur in="SourceGraphic" stdDeviation="2.0" result="b"/>
<feDisplacementMap in="b" in2="t1" scale="20" xChannelSelector="R" yChannelSelector="G" result="d0"/>
<feTurbulence type="fractalNoise" baseFrequency="0.075" numOctaves="2" seed="82" result="t3"/>
<feDisplacementMap in="d0" in2="t3" scale="11" xChannelSelector="G" yChannelSelector="B" result="d"/>
<feTurbulence type="fractalNoise" baseFrequency="0.055" numOctaves="5" seed="41" result="t2"/>
<feColorMatrix in="t2" type="matrix" values="1 0 0 0 0  1 0 0 0 0  1 0 0 0 0  0 0 0 0 1" result="n"/>
<feComposite in="d" in2="n" operator="arithmetic" k1="0.36" k2="0.82" k3="0.035" k4="-0.0175" result="c"/>
<feComponentTransfer in="c"><feFuncR type="table" tableValues="0.000 0.035 0.071 0.106 0.141 0.177 0.212 0.247 0.282 0.318 0.353 0.388 0.424 0.459 0.494 0.530 0.565 0.600 0.636 0.671 0.706 0.742 0.777 0.812 0.847 0.883 0.918 0.953 0.989 0.150 0.000 0.000 0.000 0.000 0.000 0.000 0.000 0.000 0.000 0.000 0.000 0.000 0.000 0.000 0.000 0.000 0.000 0.000 0.000 0.000 0.000 0.000 0.000 0.000 0.000 0.000 0.000 0.125 0.250 0.375 0.500 0.625 0.750 0.875 1.000 1.000 1.000 1.000 1.000 1.000 1.000 0.992 0.978 0.964 0.950 0.936 0.922 0.845 0.768 0.692 0.615 0.539 0.462 0.385 0.308 0.231 0.154 0.077 0.031 0.031 0.031 0.031 0.031 0.031 0.031 0.031 0.031 0.031 0.031 0.031 0.031 0.031 0.031 0.031 0.031"/><feFuncG type="table" tableValues="0.000 0.035 0.071 0.106 0.141 0.177 0.212 0.247 0.282 0.318 0.353 0.388 0.424 0.459 0.494 0.530 0.565 0.600 0.636 0.671 0.706 0.742 0.777 0.812 0.847 0.883 0.918 0.953 0.989 1.000 0.886 0.757 0.627 0.549 0.471 0.392 0.314 0.235 0.157 0.078 0.000 0.060 0.120 0.180 0.240 0.300 0.359 0.419 0.483 0.548 0.612 0.677 0.742 0.806 0.871 0.935 1.000 1.000 1.000 1.000 1.000 1.000 1.000 1.000 1.000 0.899 0.798 0.697 0.596 0.494 0.393 0.315 0.252 0.189 0.126 0.063 0.000 0.000 0.000 0.000 0.000 0.000 0.000 0.000 0.000 0.000 0.000 0.000 0.000 0.000 0.000 0.000 0.000 0.000 0.000 0.000 0.000 0.000 0.000 0.000 0.000 0.000 0.000 0.000 0.000"/><feFuncB type="table" tableValues="0.000 0.035 0.071 0.106 0.141 0.177 0.212 0.247 0.282 0.318 0.353 0.388 0.424 0.459 0.494 0.530 0.565 0.600 0.636 0.671 0.706 0.742 0.777 0.812 0.847 0.883 0.918 0.953 0.989 1.000 1.000 1.000 1.000 1.000 1.000 1.000 1.000 1.000 1.000 1.000 1.000 0.861 0.722 0.583 0.444 0.306 0.167 0.028 0.000 0.000 0.000 0.000 0.000 0.000 0.000 0.000 0.000 0.000 0.000 0.000 0.000 0.000 0.000 0.000 0.000 0.000 0.000 0.000 0.000 0.000 0.000 0.000 0.000 0.000 0.000 0.000 0.000 0.000 0.000 0.000 0.000 0.000 0.000 0.000 0.000 0.000 0.000 0.000 0.000 0.000 0.000 0.000 0.000 0.000 0.000 0.000 0.000 0.000 0.000 0.000 0.000 0.000 0.000 0.000 0.000"/></feComponentTransfer>
</filter><clipPath id="clir4"><rect x="718.10" y="1888.20" width="200.15" height="200.15"/></clipPath>
<radialGradient id="rgsh4" cx="0.5" cy="0.55" r="0.7"><stop offset="0" stop-color="#c5c5c5"/><stop offset="0.35" stop-color="#767676"/><stop offset="0.7" stop-color="#1f1f1f"/><stop offset="1" stop-color="#000"/></radialGradient>
<filter id="sh4" x="0" y="0" width="1" height="1" color-interpolation-filters="sRGB">
<feTurbulence type="fractalNoise" baseFrequency="0.15 0.095" numOctaves="2" seed="56" result="t"/>
<feColorMatrix in="t" type="matrix" values="1 0 0 0 0  1 0 0 0 0  1 0 0 0 0  0 0 0 0 1" result="n"/>
<feComposite in="n" in2="SourceGraphic" operator="arithmetic" k1="1.35" k2="0.36" k3="-0.675" k4="0.330" result="c"/>
<feComponentTransfer in="c"><feFuncR type="table" tableValues="0.000 0.000 0.000 0.000 0.000 0.000 0.000 0.000 0.000 0.000 0.000 0.000 0.000 0.014 0.079 0.142 0.203 0.261 0.318 0.373 0.426 0.476 0.525 0.571 0.616 0.658 0.698 0.736 0.771 0.804 0.835 0.864 0.890 0.913 0.934 0.953 0.968 0.981 0.991 0.997 1.000 1.000 1.000 1.000 1.000 1.000 1.000 1.000 1.000 1.000 1.000 1.000 1.000 1.000 1.000 1.000 1.000 1.000 1.000 1.000 1.000 1.000 1.000 1.000 1.000 1.000 1.000 1.000 0.974 0.940 0.905 0.868 0.831 0.793 0.755 0.715 0.674 0.632 0.590 0.546 0.502"/><feFuncG type="table" tableValues="0.000 0.000 0.000 0.000 0.000 0.000 0.000 0.000 0.000 0.000 0.000 0.000 0.000 0.014 0.079 0.142 0.203 0.261 0.318 0.373 0.426 0.476 0.525 0.571 0.616 0.658 0.698 0.736 0.771 0.804 0.835 0.864 0.890 0.913 0.934 0.953 0.968 0.981 0.991 0.997 1.000 0.997 0.991 0.981 0.968 0.953 0.934 0.913 0.890 0.864 0.835 0.804 0.771 0.736 0.698 0.658 0.616 0.571 0.525 0.476 0.426 0.373 0.318 0.261 0.203 0.142 0.079 0.014 0.000 0.000 0.000 0.000 0.000 0.000 0.000 0.000 0.000 0.000 0.000 0.000 0.000"/><feFuncB type="table" tableValues="0.298 0.361 0.422 0.482 0.541 0.598 0.654 0.709 0.762 0.815 0.865 0.915 0.963 1.000 1.000 1.000 1.000 1.000 1.000 1.000 1.000 1.000 1.000 1.000 1.000 1.000 1.000 1.000 1.000 1.000 1.000 1.000 1.000 1.000 1.000 1.000 1.000 1.000 1.000 1.000 1.000 0.997 0.991 0.981 0.968 0.953 0.934 0.913 0.890 0.864 0.835 0.804 0.771 0.736 0.698 0.658 0.616 0.571 0.525 0.476 0.426 0.373 0.318 0.261 0.203 0.142 0.079 0.014 0.000 0.000 0.000 0.000 0.000 0.000 0.000 0.000 0.000 0.000 0.000 0.000 0.000"/></feComponentTransfer>
</filter>
<linearGradient id="cbir" x1="0" x2="1" y1="0" y2="0"><stop offset="0.0000" stop-color="rgb(150,0,150)"/><stop offset="0.0731" stop-color="rgb(235,0,235)"/><stop offset="0.0808" stop-color="rgb(255,255,255)"/><stop offset="0.1538" stop-color="rgb(0,0,0)"/><stop offset="0.2077" stop-color="rgb(110,0,0)"/><stop offset="0.2692" stop-color="rgb(235,0,0)"/><stop offset="0.3231" stop-color="rgb(255,90,0)"/><stop offset="0.3846" stop-color="rgb(255,255,0)"/><stop offset="0.4615" stop-color="rgb(0,255,0)"/><stop offset="0.5462" stop-color="rgb(0,110,0)"/><stop offset="0.6154" stop-color="rgb(0,0,255)"/><stop offset="0.6923" stop-color="rgb(0,160,255)"/><stop offset="0.7200" stop-color="rgb(0,255,255)"/><stop offset="0.7277" stop-color="rgb(255,255,255)"/><stop offset="1.0000" stop-color="rgb(0,0,0)"/></linearGradient>
<linearGradient id="cbse" x1="0" x2="1" y1="0" y2="0"><stop offset="0" stop-color="rgb(0,0,76)"/><stop offset="0.25" stop-color="rgb(0,0,255)"/><stop offset="0.5" stop-color="rgb(255,255,255)"/><stop offset="0.75" stop-color="rgb(255,0,0)"/><stop offset="1" stop-color="rgb(128,0,0)"/></linearGradient></defs>
<rect width="1168" height="2158" fill="#fff"/>
<g opacity="0.999"><text x="584.00" y="24.70" font-size="20.83" text-anchor="middle" fill="#000">Estimated Max Wind Speed for 05L at 20250813 1710UTC</text>
<text x="131.10" y="102.60" font-size="15.28" text-anchor="middle" fill="#000">IR from</text>
<text x="131.10" y="119.90" font-size="15.28" text-anchor="middle" fill="#000">20250813</text>
<text x="131.10" y="137.50" font-size="15.28" text-anchor="middle" fill="#000">at 1710UTC</text>
<g clip-path="url(#clth0)"><g filter="url(#th0)"><rect x="49.50" y="127.50" width="164.00" height="164.00" fill="#1a1a1a" stroke="none" stroke-width="1.0"/><ellipse cx="101.7" cy="207.0" rx="37.2" ry="42.2" fill="rgb(107,107,107)" transform="rotate(0 101.7 207.0)"/><ellipse cx="94.3" cy="189.7" rx="19.8" ry="22.3" fill="rgb(140,140,140)" transform="rotate(-20 94.3 189.7)"/><ellipse cx="103.0" cy="226.9" rx="28.5" ry="16.1" fill="rgb(147,147,147)" transform="rotate(10 103.0 226.9)"/><ellipse cx="116.6" cy="209.5" rx="19.8" ry="22.3" fill="rgb(168,168,168)" transform="rotate(0 116.6 209.5)"/><ellipse cx="125.9" cy="213.2" rx="9.3" ry="10.5" fill="rgb(255,255,255)" transform="rotate(0 125.9 213.2)"/><ellipse cx="134.0" cy="163.6" rx="27.3" ry="5.0" fill="rgb(158,158,158)" transform="rotate(12 134.0 163.6)"/><ellipse cx="171.2" cy="171.1" rx="19.8" ry="3.5" fill="rgb(158,158,158)" transform="rotate(14 171.2 171.1)"/><ellipse cx="76.9" cy="154.9" rx="11.2" ry="8.7" fill="rgb(127,127,127)" transform="rotate(0 76.9 154.9)"/><ellipse cx="184.8" cy="266.5" rx="9.9" ry="5.0" fill="rgb(127,127,127)" transform="rotate(-20 184.8 266.5)"/><ellipse cx="94.3" cy="251.7" rx="24.8" ry="4.3" fill="rgb(102,102,102)" transform="rotate(8 94.3 251.7)"/><ellipse cx="163.7" cy="188.4" rx="3.7" ry="2.5" fill="rgb(153,153,153)" transform="rotate(0 163.7 188.4)"/></g></g>
<rect x="69.50" y="147.50" width="124.00" height="124.00" fill="none" stroke="#000" stroke-width="1.0"/>
<text x="273.60" y="102.60" font-size="15.28" text-anchor="middle" fill="#000">IR from</text>
<text x="273.60" y="119.90" font-size="15.28" text-anchor="middle" fill="#000">20250813</text>
<text x="273.60" y="137.50" font-size="15.28" text-anchor="middle" fill="#000">at 1410UTC</text>
<g clip-path="url(#clth1)"><g filter="url(#th1)"><rect x="192.00" y="127.50" width="164.00" height="164.00" fill="#1a1a1a" stroke="none" stroke-width="1.0"/><ellipse cx="274.0" cy="218.2" rx="14.3" ry="11.2" fill="rgb(255,255,255)" transform="rotate(0 274.0 218.2)"/><ellipse cx="252.9" cy="226.9" rx="27.3" ry="9.9" fill="rgb(158,158,158)" transform="rotate(-18 252.9 226.9)"/><ellipse cx="230.6" cy="239.3" rx="16.1" ry="5.0" fill="rgb(107,107,107)" transform="rotate(-22 230.6 239.3)"/><ellipse cx="241.8" cy="187.2" rx="14.9" ry="24.8" fill="rgb(132,132,132)" transform="rotate(-15 241.8 187.2)"/><ellipse cx="264.1" cy="179.7" rx="14.9" ry="8.7" fill="rgb(132,132,132)" transform="rotate(-25 264.1 179.7)"/><ellipse cx="276.5" cy="166.1" rx="12.4" ry="4.3" fill="rgb(153,153,153)" transform="rotate(-10 276.5 166.1)"/><ellipse cx="311.2" cy="173.5" rx="24.8" ry="3.7" fill="rgb(158,158,158)" transform="rotate(18 311.2 173.5)"/><ellipse cx="221.9" cy="157.4" rx="9.9" ry="8.7" fill="rgb(107,107,107)" transform="rotate(0 221.9 157.4)"/><ellipse cx="333.5" cy="234.3" rx="3.7" ry="5.0" fill="rgb(140,140,140)" transform="rotate(0 333.5 234.3)"/><ellipse cx="323.6" cy="262.8" rx="9.9" ry="5.0" fill="rgb(91,91,91)" transform="rotate(-20 323.6 262.8)"/></g></g>
<rect x="212.00" y="147.50" width="124.00" height="124.00" fill="none" stroke="#000" stroke-width="1.0"/>
<text x="416.10" y="102.60" font-size="15.28" text-anchor="middle" fill="#000">IR from</text>
<text x="416.10" y="119.90" font-size="15.28" text-anchor="middle" fill="#000">20250813</text>
<text x="416.10" y="137.50" font-size="15.28" text-anchor="middle" fill="#000">at 1110UTC</text>
<g clip-path="url(#clth2)"><g filter="url(#th2)"><rect x="334.50" y="127.50" width="164.00" height="164.00" fill="#1a1a1a" stroke="none" stroke-width="1.0"/><ellipse cx="400.4" cy="221.9" rx="22.3" ry="16.1" fill="rgb(242,242,242)" transform="rotate(8 400.4 221.9)"/><ellipse cx="396.7" cy="194.6" rx="18.6" ry="17.4" fill="rgb(153,153,153)" transform="rotate(0 396.7 194.6)"/><ellipse cx="420.2" cy="200.8" rx="9.9" ry="8.7" fill="rgb(107,107,107)" transform="rotate(0 420.2 200.8)"/><ellipse cx="369.4" cy="184.7" rx="11.2" ry="17.4" fill="rgb(102,102,102)" transform="rotate(0 369.4 184.7)"/><ellipse cx="389.2" cy="172.3" rx="14.9" ry="7.4" fill="rgb(127,127,127)" transform="rotate(20 389.2 172.3)"/><ellipse cx="431.4" cy="174.8" rx="27.3" ry="5.0" fill="rgb(153,153,153)" transform="rotate(14 431.4 174.8)"/><ellipse cx="463.6" cy="226.9" rx="4.3" ry="17.4" fill="rgb(127,127,127)" transform="rotate(-22 463.6 226.9)"/><ellipse cx="469.8" cy="262.8" rx="7.4" ry="6.2" fill="rgb(127,127,127)" transform="rotate(-30 469.8 262.8)"/><ellipse cx="401.6" cy="244.2" rx="17.4" ry="6.2" fill="rgb(107,107,107)" transform="rotate(10 401.6 244.2)"/></g></g>
<rect x="354.50" y="147.50" width="124.00" height="124.00" fill="none" stroke="#000" stroke-width="1.0"/>
<text x="558.60" y="102.60" font-size="15.28" text-anchor="middle" fill="#000">IR from</text>
<text x="558.60" y="119.90" font-size="15.28" text-anchor="middle" fill="#000">20250813</text>
<text x="558.60" y="137.50" font-size="15.28" text-anchor="middle" fill="#000">at 0810UTC</text>
<g clip-path="url(#clth3)"><g filter="url(#th3)"><rect x="477.00" y="127.50" width="164.00" height="164.00" fill="#1a1a1a" stroke="none" stroke-width="1.0"/><ellipse cx="546.6" cy="209.5" rx="20.5" ry="24.8" fill="rgb(242,242,242)" transform="rotate(-12 546.6 209.5)"/><ellipse cx="561.5" cy="225.6" rx="13.6" ry="11.2" fill="rgb(234,234,234)" transform="rotate(0 561.5 225.6)"/><ellipse cx="534.2" cy="172.3" rx="24.8" ry="18.6" fill="rgb(102,102,102)" transform="rotate(0 534.2 172.3)"/><ellipse cx="566.4" cy="164.9" rx="12.4" ry="7.4" fill="rgb(102,102,102)" transform="rotate(0 566.4 164.9)"/><ellipse cx="604.9" cy="173.5" rx="14.9" ry="3.7" fill="rgb(153,153,153)" transform="rotate(10 604.9 173.5)"/><ellipse cx="521.8" cy="224.4" rx="8.7" ry="6.2" fill="rgb(140,140,140)" transform="rotate(0 521.8 224.4)"/><ellipse cx="583.8" cy="207.0" rx="12.4" ry="3.7" fill="rgb(122,122,122)" transform="rotate(35 583.8 207.0)"/><ellipse cx="578.8" cy="236.8" rx="4.3" ry="8.7" fill="rgb(114,114,114)" transform="rotate(-30 578.8 236.8)"/><ellipse cx="614.8" cy="262.8" rx="6.2" ry="3.7" fill="rgb(127,127,127)" transform="rotate(0 614.8 262.8)"/></g></g>
<rect x="497.00" y="147.50" width="124.00" height="124.00" fill="none" stroke="#000" stroke-width="1.0"/>
<text x="701.10" y="102.60" font-size="15.28" text-anchor="middle" fill="#000">IR from</text>
<text x="701.10" y="119.90" font-size="15.28" text-anchor="middle" fill="#000">20250813</text>
<text x="701.10" y="137.50" font-size="15.28" text-anchor="middle" fill="#000">at 0510UTC</text>
<g clip-path="url(#clth4)"><g filter="url(#th4)"><rect x="619.50" y="127.50" width="164.00" height="164.00" fill="#1a1a1a" stroke="none" stroke-width="1.0"/><ellipse cx="691.6" cy="207.0" rx="13.0" ry="22.3" fill="rgb(242,242,242)" transform="rotate(0 691.6 207.0)"/><ellipse cx="706.5" cy="228.1" rx="10.5" ry="6.2" fill="rgb(216,216,216)" transform="rotate(-20 706.5 228.1)"/><ellipse cx="694.1" cy="169.8" rx="24.8" ry="17.4" fill="rgb(107,107,107)" transform="rotate(0 694.1 169.8)"/><ellipse cx="732.5" cy="177.3" rx="24.8" ry="5.6" fill="rgb(147,147,147)" transform="rotate(15 732.5 177.3)"/><ellipse cx="664.3" cy="231.8" rx="8.7" ry="5.0" fill="rgb(158,158,158)" transform="rotate(-15 664.3 231.8)"/><ellipse cx="723.8" cy="226.9" rx="6.2" ry="3.7" fill="rgb(153,153,153)" transform="rotate(-30 723.8 226.9)"/><ellipse cx="658.1" cy="194.6" rx="5.0" ry="8.7" fill="rgb(140,140,140)" transform="rotate(0 658.1 194.6)"/><ellipse cx="701.5" cy="254.1" rx="24.8" ry="5.6" fill="rgb(96,96,96)" transform="rotate(10 701.5 254.1)"/><ellipse cx="756.1" cy="259.1" rx="6.2" ry="3.1" fill="rgb(140,140,140)" transform="rotate(0 756.1 259.1)"/></g></g>
<rect x="639.50" y="147.50" width="124.00" height="124.00" fill="none" stroke="#000" stroke-width="1.0"/>
<polygon fill="#8b008b" points="802.1,359.5 802.1,355.1 822.2,355.1 822.2,327.1 825.1,327.1 825.1,295.0 829.1,295.0 829.1,239.9 832.0,239.9 832.0,175.1 837.2,175.1 837.2,125.9 841.1,125.9 841.1,79.0 844.0,79.0 844.0,73.1 847.0,73.1 847.0,82.0 849.8,82.0 849.8,107.0 852.9,107.0 852.9,164.9 856.8,164.9 856.8,228.0 863.9,228.0 863.9,284.0 869.8,284.0 869.8,321.0 875.9,321.0 875.9,344.9 881.9,344.9 881.9,359.5"/>
<line x1="848.3" y1="61.0" x2="848.3" y2="359.5" stroke="#a9a9a9" stroke-width="5.6" stroke-dasharray="5.6 9.2"/>
<line x1="847.00" y1="59.50" x2="847.00" y2="359.50" stroke="#000" stroke-width="2.2"/>
<rect x="784.50" y="59.50" width="300.00" height="300.00" fill="none" stroke="#000" stroke-width="1.1"/>
<text x="934.50" y="49.60" font-size="15.28" text-anchor="middle" fill="#000">Estimated MSW, knots</text>
<line x1="819.50" y1="359.50" x2="819.50" y2="364.50" stroke="#000" stroke-width="1.1"/>
<text x="818.90" y="380.70" font-size="13.89" text-anchor="middle" fill="#000">25</text>
<line x1="863.95" y1="359.50" x2="863.95" y2="364.50" stroke="#000" stroke-width="1.1"/>
<text x="863.35" y="380.70" font-size="13.89" text-anchor="middle" fill="#000">50</text>
<line x1="908.40" y1="359.50" x2="908.40" y2="364.50" stroke="#000" stroke-width="1.1"/>
<text x="907.80" y="380.70" font-size="13.89" text-anchor="middle" fill="#000">75</text>
<line x1="952.85" y1="359.50" x2="952.85" y2="364.50" stroke="#000" stroke-width="1.1"/>
<text x="952.25" y="380.70" font-size="13.89" text-anchor="middle" fill="#000">100</text>
<line x1="997.30" y1="359.50" x2="997.30" y2="364.50" stroke="#000" stroke-width="1.1"/>
<text x="996.70" y="380.70" font-size="13.89" text-anchor="middle" fill="#000">125</text>
<line x1="1041.75" y1="359.50" x2="1041.75" y2="364.50" stroke="#000" stroke-width="1.1"/>
<text x="1041.15" y="380.70" font-size="13.89" text-anchor="middle" fill="#000">150</text>
<line x1="784.50" y1="73.70" x2="789.50" y2="73.70" stroke="#000" stroke-width="1.1"/>
<line x1="1084.50" y1="73.70" x2="1079.50" y2="73.70" stroke="#000" stroke-width="1.1"/>
<text x="1089.30" y="80.10" font-size="13.89" text-anchor="start" fill="#000">1.0</text>
<line x1="784.50" y1="130.84" x2="789.50" y2="130.84" stroke="#000" stroke-width="1.1"/>
<line x1="1084.50" y1="130.84" x2="1079.50" y2="130.84" stroke="#000" stroke-width="1.1"/>
<text x="1089.30" y="137.24" font-size="13.89" text-anchor="start" fill="#000">0.8</text>
<line x1="784.50" y1="187.98" x2="789.50" y2="187.98" stroke="#000" stroke-width="1.1"/>
<line x1="1084.50" y1="187.98" x2="1079.50" y2="187.98" stroke="#000" stroke-width="1.1"/>
<text x="1089.30" y="194.38" font-size="13.89" text-anchor="start" fill="#000">0.6</text>
<line x1="784.50" y1="245.12" x2="789.50" y2="245.12" stroke="#000" stroke-width="1.1"/>
<line x1="1084.50" y1="245.12" x2="1079.50" y2="245.12" stroke="#000" stroke-width="1.1"/>
<text x="1089.30" y="251.52" font-size="13.89" text-anchor="start" fill="#000">0.4</text>
<line x1="784.50" y1="302.26" x2="789.50" y2="302.26" stroke="#000" stroke-width="1.1"/>
<line x1="1084.50" y1="302.26" x2="1079.50" y2="302.26" stroke="#000" stroke-width="1.1"/>
<text x="1089.30" y="308.66" font-size="13.89" text-anchor="start" fill="#000">0.2</text>
<line x1="784.50" y1="359.40" x2="789.50" y2="359.40" stroke="#000" stroke-width="1.1"/>
<line x1="1084.50" y1="359.40" x2="1079.50" y2="359.40" stroke="#000" stroke-width="1.1"/>
<text x="1089.30" y="365.80" font-size="13.89" text-anchor="start" fill="#000">0.0</text>
<text x="1126.80" y="211.50" font-size="13.89" text-anchor="middle" fill="#000" transform="rotate(-90 1126.80 211.50)">Relative Prob</text>
<line x1="766.00" y1="396.00" x2="797.00" y2="396.00" stroke="#000" stroke-width="2.1"/>
<text x="808.80" y="401.60" font-size="15.28" text-anchor="start" fill="#000">D-PRINT average</text>
<line x1="969" y1="396" x2="1000" y2="396" stroke="#a9a9a9" stroke-width="5.6" stroke-dasharray="5.6 9.2"/>
<text x="1012.00" y="401.60" font-size="15.28" text-anchor="start" fill="#000">NHC official</text></g>
<g opacity="0.999"><text x="584.00" y="441.80" font-size="19.44" text-anchor="middle" fill="#000">D-PRINT SHAP Values for 2025_05L: updated at 20250813 1710 UTC</text>
<line x1="82.40" y1="703.00" x2="159.20" y2="703.00" stroke="#e4e4e4" stroke-width="6.5"/>
<polyline fill="none" stroke="#e838e8" stroke-width="2.8" stroke-linejoin="round" points="159.2,705.9 400.0,705.4 700.0,704.6 900.0,704.0 945.0,705.2 1000.0,704.2 1088.4,703.6"/>
<polyline fill="none" stroke="#4ee5f0" stroke-width="2.8" stroke-linejoin="round" points="159.2,703.6 340.0,702.6 353.0,702.6 360.0,700.4 367.0,702.6 420.0,702.6 700.0,702.2 1088.4,701.3"/>
<polyline fill="none" stroke="#f2883a" stroke-width="2.8" stroke-linejoin="round" points="159.2,703.3 500.0,703.4 1088.4,703.8"/>
<polyline fill="none" stroke="#3fae49" stroke-width="2.8" stroke-linejoin="round" points="159.2,694.9 200.0,694.6 260.0,694.3 300.0,694.5 348.0,694.4 360.0,699.8 367.0,694.4 430.0,694.6 520.0,694.9 600.0,695.0 652.0,696.2 700.0,695.2 780.0,694.4 900.0,694.2 1000.0,693.7 1088.4,693.6"/>
<polyline fill="none" stroke="#000" stroke-width="2.8" stroke-linejoin="round" points="103.9,752.9 986.6,752.9 1040.0,751.9 1088.4,750.0"/>
<polyline fill="none" stroke="#dc143c" stroke-width="2.8" stroke-linejoin="round" points="159.2,738.8 173.2,751.3 181.3,758.0 192.1,754.2 203.1,751.0 209.5,759.2 218.3,763.3 228.5,756.3 237.2,756.6 246.8,751.9 255.5,753.9 264.9,752.5 274.5,762.4 283.2,762.1 301.8,744.6 311.4,760.6 328.9,745.5 339.1,754.5 349.3,751.3 360.1,749.3 366.8,761.8 376.1,760.6 385.7,762.7 394.4,765.0 403.7,760.3 410.0,760.1 421.1,759.5 428.3,758.0 440.0,758.9 449.9,764.4 458.9,758.3 468.2,764.4 477.8,761.2 487.1,756.6 495.9,750.7 504.6,757.4 514.2,759.5 532.9,763.8 541.9,753.4 551.2,754.8 560.5,745.8 569.5,755.1 578.9,768.8 588.2,770.2 597.8,761.5 609.4,770.5 615.8,770.8 625.4,775.2 643.8,772.9 653.4,779.9 662.7,776.9 673.5,776.1 693.0,772.9 699.1,763.3 708.4,771.7 717.7,764.7 727.3,769.1 736.1,760.6 744.8,769.1 745.5,769.4 755.4,762.6 773.3,760.8 783.2,762.6 791.8,761.1 800.7,765.7 810.3,760.5 822.6,766.6 829.4,763.5 838.0,763.2 847.0,771.2 864.8,765.7 871.0,766.6 874.7,770.6 884.3,765.7 893.5,766.0 911.7,753.4 920.3,753.4 939.4,745.0 957.9,758.3 977.4,753.4 985.1,753.4 994.9,764.8 1004.2,748.4 1013.4,757.1 1023.0,758.3 1031.3,756.1 1041.5,759.2 1050.7,756.4 1059.1,755.2 1069.2,753.1 1088.3,761.4"/>
<rect x="82.40" y="453.40" width="1006.00" height="349.60" fill="none" stroke="#000" stroke-width="1.1"/>
<line x1="77.40" y1="802.98" x2="82.40" y2="802.98" stroke="#000" stroke-width="1.1"/>
<text x="72.00" y="809.18" font-size="15.28" text-anchor="end" fill="#000">-40</text>
<line x1="77.40" y1="753.04" x2="82.40" y2="753.04" stroke="#000" stroke-width="1.1"/>
<text x="72.00" y="759.24" font-size="15.28" text-anchor="end" fill="#000">-20</text>
<line x1="77.40" y1="703.10" x2="82.40" y2="703.10" stroke="#000" stroke-width="1.1"/>
<text x="72.00" y="709.30" font-size="15.28" text-anchor="end" fill="#000">0</text>
<line x1="77.40" y1="653.16" x2="82.40" y2="653.16" stroke="#000" stroke-width="1.1"/>
<text x="72.00" y="659.36" font-size="15.28" text-anchor="end" fill="#000">20</text>
<line x1="77.40" y1="603.22" x2="82.40" y2="603.22" stroke="#000" stroke-width="1.1"/>
<text x="72.00" y="609.42" font-size="15.28" text-anchor="end" fill="#000">40</text>
<line x1="77.40" y1="553.28" x2="82.40" y2="553.28" stroke="#000" stroke-width="1.1"/>
<text x="72.00" y="559.48" font-size="15.28" text-anchor="end" fill="#000">60</text>
<line x1="77.40" y1="503.34" x2="82.40" y2="503.34" stroke="#000" stroke-width="1.1"/>
<text x="72.00" y="509.54" font-size="15.28" text-anchor="end" fill="#000">80</text>
<line x1="77.40" y1="453.40" x2="82.40" y2="453.40" stroke="#000" stroke-width="1.1"/>
<text x="72.00" y="459.60" font-size="15.28" text-anchor="end" fill="#000">100</text>
<line x1="77.40" y1="778.01" x2="82.40" y2="778.01" stroke="#000" stroke-width="1.1"/>
<line x1="77.40" y1="728.07" x2="82.40" y2="728.07" stroke="#000" stroke-width="1.1"/>
<line x1="77.40" y1="678.13" x2="82.40" y2="678.13" stroke="#000" stroke-width="1.1"/>
<line x1="77.40" y1="628.19" x2="82.40" y2="628.19" stroke="#000" stroke-width="1.1"/>
<line x1="77.40" y1="578.25" x2="82.40" y2="578.25" stroke="#000" stroke-width="1.1"/>
<line x1="77.40" y1="528.31" x2="82.40" y2="528.31" stroke="#000" stroke-width="1.1"/>
<line x1="77.40" y1="478.37" x2="82.40" y2="478.37" stroke="#000" stroke-width="1.1"/>
<line x1="1088.40" y1="803.00" x2="1093.40" y2="803.00" stroke="#000" stroke-width="1.1"/>
<text x="1097.20" y="809.20" font-size="15.28" text-anchor="start" fill="#000">20</text>
<line x1="1088.40" y1="753.06" x2="1093.40" y2="753.06" stroke="#000" stroke-width="1.1"/>
<text x="1097.20" y="759.26" font-size="15.28" text-anchor="start" fill="#000">40</text>
<line x1="1088.40" y1="703.12" x2="1093.40" y2="703.12" stroke="#000" stroke-width="1.1"/>
<text x="1097.20" y="709.32" font-size="15.28" text-anchor="start" fill="#000">60</text>
<line x1="1088.40" y1="653.18" x2="1093.40" y2="653.18" stroke="#000" stroke-width="1.1"/>
<text x="1097.20" y="659.38" font-size="15.28" text-anchor="start" fill="#000">80</text>
<line x1="1088.40" y1="603.24" x2="1093.40" y2="603.24" stroke="#000" stroke-width="1.1"/>
<text x="1097.20" y="609.44" font-size="15.28" text-anchor="start" fill="#000">100</text>
<line x1="1088.40" y1="553.30" x2="1093.40" y2="553.30" stroke="#000" stroke-width="1.1"/>
<text x="1097.20" y="559.50" font-size="15.28" text-anchor="start" fill="#000">120</text>
<line x1="1088.40" y1="503.36" x2="1093.40" y2="503.36" stroke="#000" stroke-width="1.1"/>
<text x="1097.20" y="509.56" font-size="15.28" text-anchor="start" fill="#000">140</text>
<line x1="1088.40" y1="453.42" x2="1093.40" y2="453.42" stroke="#000" stroke-width="1.1"/>
<text x="1097.20" y="459.62" font-size="15.28" text-anchor="start" fill="#000">160</text>
<line x1="1088.40" y1="778.03" x2="1093.40" y2="778.03" stroke="#000" stroke-width="1.1"/>
<line x1="1088.40" y1="728.09" x2="1093.40" y2="728.09" stroke="#000" stroke-width="1.1"/>
<line x1="1088.40" y1="678.15" x2="1093.40" y2="678.15" stroke="#000" stroke-width="1.1"/>
<line x1="1088.40" y1="628.21" x2="1093.40" y2="628.21" stroke="#000" stroke-width="1.1"/>
<line x1="1088.40" y1="578.27" x2="1093.40" y2="578.27" stroke="#000" stroke-width="1.1"/>
<line x1="1088.40" y1="528.33" x2="1093.40" y2="528.33" stroke="#000" stroke-width="1.1"/>
<line x1="1088.40" y1="478.39" x2="1093.40" y2="478.39" stroke="#000" stroke-width="1.1"/>
<text x="33.10" y="629.50" font-size="15.85" text-anchor="middle" fill="#000" transform="rotate(-90 33.10 629.50)">SHAP Value [kts]</text>
<text x="1144.20" y="630.00" font-size="16.00" text-anchor="middle" fill="#000" transform="rotate(-90 1144.20 630.00)">Working Best Track TC Intensity [kt]</text>
<line x1="106.34" y1="803.00" x2="106.34" y2="805.80" stroke="#000" stroke-width="0.9"/>
<line x1="217.02" y1="803.00" x2="217.02" y2="805.80" stroke="#000" stroke-width="0.9"/>
<line x1="327.70" y1="803.00" x2="327.70" y2="808.00" stroke="#000" stroke-width="1.1"/>
<line x1="438.38" y1="803.00" x2="438.38" y2="805.80" stroke="#000" stroke-width="0.9"/>
<line x1="549.06" y1="803.00" x2="549.06" y2="805.80" stroke="#000" stroke-width="0.9"/>
<line x1="659.74" y1="803.00" x2="659.74" y2="805.80" stroke="#000" stroke-width="0.9"/>
<line x1="770.42" y1="803.00" x2="770.42" y2="808.00" stroke="#000" stroke-width="1.1"/>
<line x1="881.10" y1="803.00" x2="881.10" y2="805.80" stroke="#000" stroke-width="0.9"/>
<line x1="991.78" y1="803.00" x2="991.78" y2="805.80" stroke="#000" stroke-width="0.9"/>
<text x="326.80" y="826.20" font-size="15.28" text-anchor="middle" fill="#000">08/12</text>
<text x="769.60" y="826.20" font-size="15.28" text-anchor="middle" fill="#000">08/13</text>
<text x="584.50" y="847.00" font-size="15.28" text-anchor="middle" fill="#000">2025</text>
<text x="211.30" y="865.60" font-size="15.28" text-anchor="start" fill="#000">SHAP values:</text>
<line x1="341.40" y1="859.90" x2="374.80" y2="859.90" stroke="#dc143c" stroke-width="2.8"/>
<text x="386.20" y="865.60" font-size="15.28" text-anchor="start" fill="#000">IR</text>
<line x1="430.20" y1="859.90" x2="462.90" y2="859.90" stroke="#4ee5f0" stroke-width="2.8"/>
<text x="474.30" y="865.60" font-size="15.28" text-anchor="start" fill="#000">History</text>
<line x1="558.20" y1="859.90" x2="591.60" y2="859.90" stroke="#3fae49" stroke-width="2.8"/>
<text x="602.20" y="865.60" font-size="15.28" text-anchor="start" fill="#000">Position</text>
<line x1="691.00" y1="859.90" x2="723.80" y2="859.90" stroke="#e838e8" stroke-width="2.8"/>
<text x="735.10" y="865.60" font-size="15.28" text-anchor="start" fill="#000">Environment</text>
<line x1="862.40" y1="859.90" x2="895.00" y2="859.90" stroke="#f2883a" stroke-width="2.8"/>
<text x="906.40" y="865.60" font-size="15.28" text-anchor="start" fill="#000">GFS Thermo</text>
<line x1="516.20" y1="882.40" x2="549.60" y2="882.40" stroke="#000" stroke-width="2.8"/>
<text x="560.30" y="888.10" font-size="15.28" text-anchor="start" fill="#000">TC Intensity</text></g>
<g id="s3">
<text x="334.00" y="919.60" font-size="13.20" text-anchor="middle" fill="#000">Shap values for 2025_05L at 20250813 1710UTC</text>
<rect x="67.20" y="1101.10" width="400.60" height="103.80" fill="#f5f5f5" stroke="none" stroke-width="1.0"/>
<rect x="67.20" y="1377.90" width="400.60" height="276.80" fill="#f5f5f5" stroke="none" stroke-width="1.0"/>
<line x1="67.20" y1="962.70" x2="467.80" y2="962.70" stroke="#ebebeb" stroke-width="0.7"/>
<line x1="67.20" y1="997.30" x2="467.80" y2="997.30" stroke="#ebebeb" stroke-width="0.7"/>
<line x1="67.20" y1="1031.90" x2="467.80" y2="1031.90" stroke="#ebebeb" stroke-width="0.7"/>
<line x1="67.20" y1="1066.50" x2="467.80" y2="1066.50" stroke="#ebebeb" stroke-width="0.7"/>
<line x1="67.20" y1="1135.70" x2="467.80" y2="1135.70" stroke="#ebebeb" stroke-width="0.7"/>
<line x1="67.20" y1="1170.30" x2="467.80" y2="1170.30" stroke="#ebebeb" stroke-width="0.7"/>
<line x1="67.20" y1="1239.50" x2="467.80" y2="1239.50" stroke="#ebebeb" stroke-width="0.7"/>
<line x1="67.20" y1="1274.10" x2="467.80" y2="1274.10" stroke="#ebebeb" stroke-width="0.7"/>
<line x1="67.20" y1="1308.70" x2="467.80" y2="1308.70" stroke="#ebebeb" stroke-width="0.7"/>
<line x1="67.20" y1="1343.30" x2="467.80" y2="1343.30" stroke="#ebebeb" stroke-width="0.7"/>
<line x1="67.20" y1="1412.50" x2="467.80" y2="1412.50" stroke="#ebebeb" stroke-width="0.7"/>
<line x1="67.20" y1="1447.10" x2="467.80" y2="1447.10" stroke="#ebebeb" stroke-width="0.7"/>
<line x1="67.20" y1="1481.70" x2="467.80" y2="1481.70" stroke="#ebebeb" stroke-width="0.7"/>
<line x1="67.20" y1="1516.30" x2="467.80" y2="1516.30" stroke="#ebebeb" stroke-width="0.7"/>
<line x1="67.20" y1="1550.90" x2="467.80" y2="1550.90" stroke="#ebebeb" stroke-width="0.7"/>
<line x1="67.20" y1="1585.50" x2="467.80" y2="1585.50" stroke="#ebebeb" stroke-width="0.7"/>
<line x1="67.20" y1="1620.10" x2="467.80" y2="1620.10" stroke="#ebebeb" stroke-width="0.7"/>
<line x1="67.20" y1="1689.30" x2="467.80" y2="1689.30" stroke="#ebebeb" stroke-width="0.7"/>
<line x1="67.20" y1="1723.90" x2="467.80" y2="1723.90" stroke="#ebebeb" stroke-width="0.7"/>
<line x1="67.20" y1="1758.50" x2="467.80" y2="1758.50" stroke="#ebebeb" stroke-width="0.7"/>
<line x1="67.20" y1="1793.10" x2="467.80" y2="1793.10" stroke="#ebebeb" stroke-width="0.7"/>
<line x1="67.20" y1="1827.70" x2="467.80" y2="1827.70" stroke="#ebebeb" stroke-width="0.7"/>
<line x1="67.20" y1="1862.30" x2="467.80" y2="1862.30" stroke="#ebebeb" stroke-width="0.7"/>
<line x1="67.20" y1="1896.90" x2="467.80" y2="1896.90" stroke="#ebebeb" stroke-width="0.7"/>
<line x1="67.20" y1="1931.50" x2="467.80" y2="1931.50" stroke="#ebebeb" stroke-width="0.7"/>
<line x1="67.20" y1="1966.10" x2="467.80" y2="1966.10" stroke="#ebebeb" stroke-width="0.7"/>
<line x1="67.20" y1="2000.70" x2="467.80" y2="2000.70" stroke="#ebebeb" stroke-width="0.7"/>
<line x1="67.20" y1="945.40" x2="467.80" y2="945.40" stroke="#f1f1f1" stroke-width="0.5"/>
<line x1="67.20" y1="980.00" x2="467.80" y2="980.00" stroke="#f1f1f1" stroke-width="0.5"/>
<line x1="67.20" y1="1014.60" x2="467.80" y2="1014.60" stroke="#f1f1f1" stroke-width="0.5"/>
<line x1="67.20" y1="1049.20" x2="467.80" y2="1049.20" stroke="#f1f1f1" stroke-width="0.5"/>
<line x1="67.20" y1="1083.80" x2="467.80" y2="1083.80" stroke="#f1f1f1" stroke-width="0.5"/>
<line x1="67.20" y1="1118.40" x2="467.80" y2="1118.40" stroke="#f1f1f1" stroke-width="0.5"/>
<line x1="67.20" y1="1153.00" x2="467.80" y2="1153.00" stroke="#f1f1f1" stroke-width="0.5"/>
<line x1="67.20" y1="1187.60" x2="467.80" y2="1187.60" stroke="#f1f1f1" stroke-width="0.5"/>
<line x1="67.20" y1="1222.20" x2="467.80" y2="1222.20" stroke="#f1f1f1" stroke-width="0.5"/>
<line x1="67.20" y1="1256.80" x2="467.80" y2="1256.80" stroke="#f1f1f1" stroke-width="0.5"/>
<line x1="67.20" y1="1291.40" x2="467.80" y2="1291.40" stroke="#f1f1f1" stroke-width="0.5"/>
<line x1="67.20" y1="1326.00" x2="467.80" y2="1326.00" stroke="#f1f1f1" stroke-width="0.5"/>
<line x1="67.20" y1="1360.60" x2="467.80" y2="1360.60" stroke="#f1f1f1" stroke-width="0.5"/>
<line x1="67.20" y1="1395.20" x2="467.80" y2="1395.20" stroke="#f1f1f1" stroke-width="0.5"/>
<line x1="67.20" y1="1429.80" x2="467.80" y2="1429.80" stroke="#f1f1f1" stroke-width="0.5"/>
<line x1="67.20" y1="1464.40" x2="467.80" y2="1464.40" stroke="#f1f1f1" stroke-width="0.5"/>
<line x1="67.20" y1="1499.00" x2="467.80" y2="1499.00" stroke="#f1f1f1" stroke-width="0.5"/>
<line x1="67.20" y1="1533.60" x2="467.80" y2="1533.60" stroke="#f1f1f1" stroke-width="0.5"/>
<line x1="67.20" y1="1568.20" x2="467.80" y2="1568.20" stroke="#f1f1f1" stroke-width="0.5"/>
<line x1="67.20" y1="1602.80" x2="467.80" y2="1602.80" stroke="#f1f1f1" stroke-width="0.5"/>
<line x1="67.20" y1="1637.40" x2="467.80" y2="1637.40" stroke="#f1f1f1" stroke-width="0.5"/>
<line x1="67.20" y1="1672.00" x2="467.80" y2="1672.00" stroke="#f1f1f1" stroke-width="0.5"/>
<line x1="67.20" y1="1706.60" x2="467.80" y2="1706.60" stroke="#f1f1f1" stroke-width="0.5"/>
<line x1="67.20" y1="1741.20" x2="467.80" y2="1741.20" stroke="#f1f1f1" stroke-width="0.5"/>
<line x1="67.20" y1="1775.80" x2="467.80" y2="1775.80" stroke="#f1f1f1" stroke-width="0.5"/>
<line x1="67.20" y1="1810.40" x2="467.80" y2="1810.40" stroke="#f1f1f1" stroke-width="0.5"/>
<line x1="67.20" y1="1845.00" x2="467.80" y2="1845.00" stroke="#f1f1f1" stroke-width="0.5"/>
<line x1="67.20" y1="1879.60" x2="467.80" y2="1879.60" stroke="#f1f1f1" stroke-width="0.5"/>
<line x1="67.20" y1="1914.20" x2="467.80" y2="1914.20" stroke="#f1f1f1" stroke-width="0.5"/>
<line x1="67.20" y1="1948.80" x2="467.80" y2="1948.80" stroke="#f1f1f1" stroke-width="0.5"/>
<line x1="67.20" y1="1983.40" x2="467.80" y2="1983.40" stroke="#f1f1f1" stroke-width="0.5"/>
<line x1="67.20" y1="2018.00" x2="467.80" y2="2018.00" stroke="#f1f1f1" stroke-width="0.5"/>
<line x1="359.90" y1="928.10" x2="359.90" y2="2035.30" stroke="#a6a6a6" stroke-width="1.2"/>
<line x1="67.20" y1="1101.10" x2="467.80" y2="1101.10" stroke="#1a1a1a" stroke-width="1.4"/>
<line x1="67.20" y1="1204.90" x2="467.80" y2="1204.90" stroke="#1a1a1a" stroke-width="1.4"/>
<line x1="67.20" y1="1377.90" x2="467.80" y2="1377.90" stroke="#1a1a1a" stroke-width="1.4"/>
<line x1="67.20" y1="1654.70" x2="467.80" y2="1654.70" stroke="#1a1a1a" stroke-width="1.4"/>
<rect x="67.20" y="928.10" width="400.60" height="1107.20" fill="none" stroke="#5a5a5a" stroke-width="1.0"/>
<circle cx="177.4" cy="945.7" r="3.5" fill="#6758d8"/>
<line x1="64.70" y1="945.40" x2="67.20" y2="945.40" stroke="#444" stroke-width="0.7"/>
<line x1="467.80" y1="945.40" x2="470.30" y2="945.40" stroke="#444" stroke-width="0.7"/>
<text x="62.30" y="948.90" font-size="8.30" text-anchor="end" fill="#1a1a1a">0h_old_IR</text>
<text x="472.30" y="944.20" font-size="8.35" text-anchor="start" fill="#1a1a1a">0h old IR data</text>
<text x="472.30" y="953.50" font-size="8.35" text-anchor="start" fill="#1a1a1a">(128x128 grid points)</text>
<circle cx="254.8" cy="980.3" r="3.5" fill="#7c4ccb"/>
<line x1="64.70" y1="980.00" x2="67.20" y2="980.00" stroke="#444" stroke-width="0.7"/>
<line x1="467.80" y1="980.00" x2="470.30" y2="980.00" stroke="#444" stroke-width="0.7"/>
<text x="62.30" y="983.50" font-size="8.30" text-anchor="end" fill="#1a1a1a">3h_old_IR</text>
<text x="472.30" y="978.80" font-size="8.35" text-anchor="start" fill="#1a1a1a">3h old IR data</text>
<text x="472.30" y="988.10" font-size="8.35" text-anchor="start" fill="#1a1a1a">(128x128 grid points)</text>
<circle cx="259.8" cy="1014.9" r="3.5" fill="#4568e0"/>
<line x1="64.70" y1="1014.60" x2="67.20" y2="1014.60" stroke="#444" stroke-width="0.7"/>
<line x1="467.80" y1="1014.60" x2="470.30" y2="1014.60" stroke="#444" stroke-width="0.7"/>
<text x="62.30" y="1018.10" font-size="8.30" text-anchor="end" fill="#1a1a1a">6h_old_IR</text>
<text x="472.30" y="1013.40" font-size="8.35" text-anchor="start" fill="#1a1a1a">6h old IR data</text>
<text x="472.30" y="1022.70" font-size="8.35" text-anchor="start" fill="#1a1a1a">(128x128 grid points)</text>
<circle cx="343.9" cy="1049.5" r="3.5" fill="#dc0a8a"/>
<line x1="64.70" y1="1049.20" x2="67.20" y2="1049.20" stroke="#444" stroke-width="0.7"/>
<line x1="467.80" y1="1049.20" x2="470.30" y2="1049.20" stroke="#444" stroke-width="0.7"/>
<text x="62.30" y="1052.70" font-size="8.30" text-anchor="end" fill="#1a1a1a">9h_old_IR</text>
<text x="472.30" y="1048.00" font-size="8.35" text-anchor="start" fill="#1a1a1a">9h old IR data</text>
<text x="472.30" y="1057.30" font-size="8.35" text-anchor="start" fill="#1a1a1a">(128x128 grid points)</text>
<circle cx="85.5" cy="1084.1" r="3.5" fill="#9834bd"/>
<line x1="64.70" y1="1083.80" x2="67.20" y2="1083.80" stroke="#444" stroke-width="0.7"/>
<line x1="467.80" y1="1083.80" x2="470.30" y2="1083.80" stroke="#444" stroke-width="0.7"/>
<text x="62.30" y="1087.30" font-size="8.30" text-anchor="end" fill="#1a1a1a">12h_old_IR</text>
<text x="472.30" y="1082.60" font-size="8.35" text-anchor="start" fill="#1a1a1a">12h old IR data</text>
<text x="472.30" y="1091.90" font-size="8.35" text-anchor="start" fill="#1a1a1a">(128x128 grid points)</text>
<circle cx="355.2" cy="1118.7" r="3.5" fill="#9634bc"/>
<line x1="64.70" y1="1118.40" x2="67.20" y2="1118.40" stroke="#444" stroke-width="0.7"/>
<line x1="467.80" y1="1118.40" x2="470.30" y2="1118.40" stroke="#444" stroke-width="0.7"/>
<text x="62.30" y="1121.90" font-size="8.30" text-anchor="end" fill="#1a1a1a">DELV</text>
<text x="472.30" y="1121.40" font-size="8.35" text-anchor="start" fill="#1a1a1a">-12h to 0h Intensity change</text>
<circle cx="379.7" cy="1153.3" r="3.5" fill="#ec1078"/>
<line x1="64.70" y1="1153.00" x2="67.20" y2="1153.00" stroke="#444" stroke-width="0.7"/>
<line x1="467.80" y1="1153.00" x2="470.30" y2="1153.00" stroke="#444" stroke-width="0.7"/>
<text x="62.30" y="1156.50" font-size="8.30" text-anchor="end" fill="#1a1a1a">HIST</text>
<text x="472.30" y="1151.80" font-size="8.35" text-anchor="start" fill="#1a1a1a">The # of 6h periods VMAX</text>
<text x="472.30" y="1161.10" font-size="8.35" text-anchor="start" fill="#1a1a1a">has been above 20kt</text>
<circle cx="359.9" cy="1187.9" r="3.5" fill="#0a8af8"/>
<line x1="64.70" y1="1187.60" x2="67.20" y2="1187.60" stroke="#444" stroke-width="0.7"/>
<line x1="467.80" y1="1187.60" x2="470.30" y2="1187.60" stroke="#444" stroke-width="0.7"/>
<text x="62.30" y="1191.10" font-size="8.30" text-anchor="end" fill="#1a1a1a">SPD</text>
<text x="472.30" y="1190.60" font-size="8.35" text-anchor="start" fill="#1a1a1a">TC Translation Speed</text>
<circle cx="366.6" cy="1222.5" r="3.5" fill="#9a2bb2"/>
<line x1="64.70" y1="1222.20" x2="67.20" y2="1222.20" stroke="#444" stroke-width="0.7"/>
<line x1="467.80" y1="1222.20" x2="470.30" y2="1222.20" stroke="#444" stroke-width="0.7"/>
<text x="62.30" y="1225.70" font-size="8.30" text-anchor="end" fill="#1a1a1a">sin_lat</text>
<text x="472.30" y="1225.20" font-size="8.35" text-anchor="start" fill="#1a1a1a">Sine of Latitude</text>
<circle cx="391.6" cy="1257.1" r="3.5" fill="#ce0a98"/>
<line x1="64.70" y1="1256.80" x2="67.20" y2="1256.80" stroke="#444" stroke-width="0.7"/>
<line x1="467.80" y1="1256.80" x2="470.30" y2="1256.80" stroke="#444" stroke-width="0.7"/>
<text x="62.30" y="1260.30" font-size="8.30" text-anchor="end" fill="#1a1a1a">cos_lon</text>
<text x="472.30" y="1259.80" font-size="8.35" text-anchor="start" fill="#1a1a1a">Cosine of Longitude</text>
<circle cx="449.8" cy="1291.7" r="3.5" fill="#9834bd"/>
<line x1="64.70" y1="1291.40" x2="67.20" y2="1291.40" stroke="#444" stroke-width="0.7"/>
<line x1="467.80" y1="1291.40" x2="470.30" y2="1291.40" stroke="#444" stroke-width="0.7"/>
<text x="62.30" y="1294.90" font-size="8.30" text-anchor="end" fill="#1a1a1a">sin_lon</text>
<text x="472.30" y="1294.40" font-size="8.35" text-anchor="start" fill="#1a1a1a">Sine of Longitude</text>
<circle cx="340.7" cy="1326.3" r="3.5" fill="#8c3abf"/>
<line x1="64.70" y1="1326.00" x2="67.20" y2="1326.00" stroke="#444" stroke-width="0.7"/>
<line x1="467.80" y1="1326.00" x2="470.30" y2="1326.00" stroke="#444" stroke-width="0.7"/>
<text x="62.30" y="1329.50" font-size="8.30" text-anchor="end" fill="#1a1a1a">DTL</text>
<text x="472.30" y="1329.00" font-size="8.35" text-anchor="start" fill="#1a1a1a">Distance to Land</text>
<circle cx="363.4" cy="1360.9" r="3.5" fill="#0a8af8"/>
<line x1="64.70" y1="1360.60" x2="67.20" y2="1360.60" stroke="#444" stroke-width="0.7"/>
<line x1="467.80" y1="1360.60" x2="470.30" y2="1360.60" stroke="#444" stroke-width="0.7"/>
<text x="62.30" y="1364.10" font-size="8.30" text-anchor="end" fill="#1a1a1a">sin_local_time</text>
<text x="472.30" y="1359.40" font-size="8.35" text-anchor="start" fill="#1a1a1a">Sine of Time of Day</text>
<text x="472.30" y="1368.70" font-size="8.35" text-anchor="start" fill="#1a1a1a">(Local Solar Time)</text>
<circle cx="357.0" cy="1395.5" r="3.5" fill="#1a80ee"/>
<line x1="64.70" y1="1395.20" x2="67.20" y2="1395.20" stroke="#444" stroke-width="0.7"/>
<line x1="467.80" y1="1395.20" x2="470.30" y2="1395.20" stroke="#444" stroke-width="0.7"/>
<text x="62.30" y="1398.70" font-size="8.30" text-anchor="end" fill="#1a1a1a">SHRD</text>
<text x="472.30" y="1398.20" font-size="8.35" text-anchor="start" fill="#1a1a1a">850-200hPa shear (200-800 km)</text>
<circle cx="357.0" cy="1430.1" r="3.5" fill="#ec1078"/>
<line x1="64.70" y1="1429.80" x2="67.20" y2="1429.80" stroke="#444" stroke-width="0.7"/>
<line x1="467.80" y1="1429.80" x2="470.30" y2="1429.80" stroke="#444" stroke-width="0.7"/>
<text x="62.30" y="1433.30" font-size="8.30" text-anchor="end" fill="#1a1a1a">SHDC</text>
<text x="472.30" y="1428.60" font-size="8.35" text-anchor="start" fill="#1a1a1a">850-200hPa shear with</text>
<text x="472.30" y="1437.90" font-size="8.35" text-anchor="start" fill="#1a1a1a">vortex removed (0-500 km)</text>
<circle cx="363.7" cy="1464.7" r="3.5" fill="#1282f2"/>
<line x1="64.70" y1="1464.40" x2="67.20" y2="1464.40" stroke="#444" stroke-width="0.7"/>
<line x1="467.80" y1="1464.40" x2="470.30" y2="1464.40" stroke="#444" stroke-width="0.7"/>
<text x="62.30" y="1467.90" font-size="8.30" text-anchor="end" fill="#1a1a1a">SHRS</text>
<text x="472.30" y="1467.40" font-size="8.35" text-anchor="start" fill="#1a1a1a">850-500hPa shear (200-800 km)</text>
<circle cx="359.9" cy="1499.3" r="3.5" fill="#0a8af8"/>
<line x1="64.70" y1="1499.00" x2="67.20" y2="1499.00" stroke="#444" stroke-width="0.7"/>
<line x1="467.80" y1="1499.00" x2="470.30" y2="1499.00" stroke="#444" stroke-width="0.7"/>
<text x="62.30" y="1502.50" font-size="8.30" text-anchor="end" fill="#1a1a1a">MPI</text>
<text x="472.30" y="1502.00" font-size="8.35" text-anchor="start" fill="#1a1a1a">Maximum potential intensity</text>
<circle cx="310.1" cy="1533.9" r="3.5" fill="#a823ab"/>
<line x1="64.70" y1="1533.60" x2="67.20" y2="1533.60" stroke="#444" stroke-width="0.7"/>
<line x1="467.80" y1="1533.60" x2="470.30" y2="1533.60" stroke="#444" stroke-width="0.7"/>
<text x="62.30" y="1537.10" font-size="8.30" text-anchor="end" fill="#1a1a1a">RSST</text>
<text x="472.30" y="1536.60" font-size="8.35" text-anchor="start" fill="#1a1a1a">Reynolds SST</text>
<circle cx="395.4" cy="1568.5" r="3.5" fill="#1678ec"/>
<line x1="64.70" y1="1568.20" x2="67.20" y2="1568.20" stroke="#444" stroke-width="0.7"/>
<line x1="467.80" y1="1568.20" x2="470.30" y2="1568.20" stroke="#444" stroke-width="0.7"/>
<text x="62.30" y="1571.70" font-size="8.30" text-anchor="end" fill="#1a1a1a">COHC</text>
<text x="472.30" y="1571.20" font-size="8.35" text-anchor="start" fill="#1a1a1a">Climatological Ocean Heat Content</text>
<circle cx="359.9" cy="1603.1" r="3.5" fill="#1282f2"/>
<line x1="64.70" y1="1602.80" x2="67.20" y2="1602.80" stroke="#444" stroke-width="0.7"/>
<line x1="467.80" y1="1602.80" x2="470.30" y2="1602.80" stroke="#444" stroke-width="0.7"/>
<text x="62.30" y="1606.30" font-size="8.30" text-anchor="end" fill="#1a1a1a">CD26</text>
<text x="472.30" y="1601.60" font-size="8.35" text-anchor="start" fill="#1a1a1a">Climatological depth of</text>
<text x="472.30" y="1610.90" font-size="8.35" text-anchor="start" fill="#1a1a1a">26° C isotherm</text>
<circle cx="364.8" cy="1637.7" r="3.5" fill="#1282f2"/>
<line x1="64.70" y1="1637.40" x2="67.20" y2="1637.40" stroke="#444" stroke-width="0.7"/>
<line x1="467.80" y1="1637.40" x2="470.30" y2="1637.40" stroke="#444" stroke-width="0.7"/>
<text x="62.30" y="1640.90" font-size="8.30" text-anchor="end" fill="#1a1a1a">CD20</text>
<text x="472.30" y="1636.20" font-size="8.35" text-anchor="start" fill="#1a1a1a">Climatological depth of</text>
<text x="472.30" y="1645.50" font-size="8.35" text-anchor="start" fill="#1a1a1a">20° C isotherm</text>
<circle cx="355.8" cy="1672.3" r="3.5" fill="#d40f90"/>
<line x1="64.70" y1="1672.00" x2="67.20" y2="1672.00" stroke="#444" stroke-width="0.7"/>
<line x1="467.80" y1="1672.00" x2="470.30" y2="1672.00" stroke="#444" stroke-width="0.7"/>
<text x="62.30" y="1675.50" font-size="8.30" text-anchor="end" fill="#1a1a1a">DIVC</text>
<text x="472.30" y="1670.80" font-size="8.35" text-anchor="start" fill="#1a1a1a">200hPa divergence centered at</text>
<text x="472.30" y="1680.10" font-size="8.35" text-anchor="start" fill="#1a1a1a">850hPa vortex location</text>
<circle cx="349.7" cy="1706.9" r="3.5" fill="#f01460"/>
<line x1="64.70" y1="1706.60" x2="67.20" y2="1706.60" stroke="#444" stroke-width="0.7"/>
<line x1="467.80" y1="1706.60" x2="470.30" y2="1706.60" stroke="#444" stroke-width="0.7"/>
<text x="62.30" y="1710.10" font-size="8.30" text-anchor="end" fill="#1a1a1a">V300</text>
<text x="472.30" y="1705.40" font-size="8.35" text-anchor="start" fill="#1a1a1a">300hPa tangential wind azimuthally</text>
<text x="472.30" y="1714.70" font-size="8.35" text-anchor="start" fill="#1a1a1a">averaged at 500 km</text>
<circle cx="352.6" cy="1741.5" r="3.5" fill="#1878e6"/>
<line x1="64.70" y1="1741.20" x2="67.20" y2="1741.20" stroke="#444" stroke-width="0.7"/>
<line x1="467.80" y1="1741.20" x2="470.30" y2="1741.20" stroke="#444" stroke-width="0.7"/>
<text x="62.30" y="1744.70" font-size="8.30" text-anchor="end" fill="#1a1a1a">V500</text>
<text x="472.30" y="1740.00" font-size="8.35" text-anchor="start" fill="#1a1a1a">500hPa tangential wind azimuthally</text>
<text x="472.30" y="1749.30" font-size="8.35" text-anchor="start" fill="#1a1a1a">averaged at 500 km</text>
<circle cx="358.2" cy="1776.1" r="3.5" fill="#0a8af8"/>
<line x1="64.70" y1="1775.80" x2="67.20" y2="1775.80" stroke="#444" stroke-width="0.7"/>
<line x1="467.80" y1="1775.80" x2="470.30" y2="1775.80" stroke="#444" stroke-width="0.7"/>
<text x="62.30" y="1779.30" font-size="8.30" text-anchor="end" fill="#1a1a1a">V850</text>
<text x="472.30" y="1774.60" font-size="8.35" text-anchor="start" fill="#1a1a1a">850hPa tangential wind azimuthally</text>
<text x="472.30" y="1783.90" font-size="8.35" text-anchor="start" fill="#1a1a1a">averaged at 500 km</text>
<circle cx="348.6" cy="1810.7" r="3.5" fill="#3a5ed8"/>
<line x1="64.70" y1="1810.40" x2="67.20" y2="1810.40" stroke="#444" stroke-width="0.7"/>
<line x1="467.80" y1="1810.40" x2="470.30" y2="1810.40" stroke="#444" stroke-width="0.7"/>
<text x="62.30" y="1813.90" font-size="8.30" text-anchor="end" fill="#1a1a1a">Z850</text>
<text x="472.30" y="1813.40" font-size="8.35" text-anchor="start" fill="#1a1a1a">850hPa vorticity (0-1000 km)</text>
<circle cx="354.7" cy="1845.3" r="3.5" fill="#0a8af8"/>
<line x1="64.70" y1="1845.00" x2="67.20" y2="1845.00" stroke="#444" stroke-width="0.7"/>
<line x1="467.80" y1="1845.00" x2="470.30" y2="1845.00" stroke="#444" stroke-width="0.7"/>
<text x="62.30" y="1848.50" font-size="8.30" text-anchor="end" fill="#1a1a1a">U200</text>
<text x="472.30" y="1848.00" font-size="8.35" text-anchor="start" fill="#1a1a1a">200hPa zonal wind (200-800 km)</text>
<circle cx="380.3" cy="1879.9" r="3.5" fill="#0a8af8"/>
<line x1="64.70" y1="1879.60" x2="67.20" y2="1879.60" stroke="#444" stroke-width="0.7"/>
<line x1="467.80" y1="1879.60" x2="470.30" y2="1879.60" stroke="#444" stroke-width="0.7"/>
<text x="62.30" y="1883.10" font-size="8.30" text-anchor="end" fill="#1a1a1a">U20C</text>
<text x="472.30" y="1882.60" font-size="8.35" text-anchor="start" fill="#1a1a1a">200hPa zonal wind (0-500 km)</text>
<circle cx="359.3" cy="1914.5" r="3.5" fill="#0a8af8"/>
<line x1="64.70" y1="1914.20" x2="67.20" y2="1914.20" stroke="#444" stroke-width="0.7"/>
<line x1="467.80" y1="1914.20" x2="470.30" y2="1914.20" stroke="#444" stroke-width="0.7"/>
<text x="62.30" y="1917.70" font-size="8.30" text-anchor="end" fill="#1a1a1a">V20C</text>
<text x="472.30" y="1917.20" font-size="8.35" text-anchor="start" fill="#1a1a1a">200hPa meridional wind (0-500 km)</text>
<circle cx="366.0" cy="1949.1" r="3.5" fill="#0e80f0"/>
<line x1="64.70" y1="1948.80" x2="67.20" y2="1948.80" stroke="#444" stroke-width="0.7"/>
<line x1="467.80" y1="1948.80" x2="470.30" y2="1948.80" stroke="#444" stroke-width="0.7"/>
<text x="62.30" y="1952.30" font-size="8.30" text-anchor="end" fill="#1a1a1a">RHMD</text>
<text x="472.30" y="1947.60" font-size="8.35" text-anchor="start" fill="#1a1a1a">700-500hPa relative humidity</text>
<text x="472.30" y="1956.90" font-size="8.35" text-anchor="start" fill="#1a1a1a">(200-800 km)</text>
<circle cx="367.2" cy="1983.7" r="3.5" fill="#0a8af8"/>
<line x1="64.70" y1="1983.40" x2="67.20" y2="1983.40" stroke="#444" stroke-width="0.7"/>
<line x1="467.80" y1="1983.40" x2="470.30" y2="1983.40" stroke="#444" stroke-width="0.7"/>
<text x="62.30" y="1986.90" font-size="8.30" text-anchor="end" fill="#1a1a1a">EPSS</text>
<text x="472.3" y="1982.40" font-size="8.35" fill="#1a1a1a">Avg. Δ <tspan font-style="italic">θ</tspan><tspan font-size="5.8" dy="1.6" font-style="italic">e</tspan><tspan dy="-1.6"> (only +) btwn parcel lifted from</tspan></text>
<text x="472.3" y="1992.60" font-size="8.35" fill="#1a1a1a">sfc. and saturated env. <tspan font-style="italic">θ</tspan><tspan font-size="5.8" dy="1.6" font-style="italic">e</tspan><tspan dy="-1.6"> (200-800 km)</tspan></text>
<circle cx="366.0" cy="2018.3" r="3.5" fill="#0e80f0"/>
<line x1="64.70" y1="2018.00" x2="67.20" y2="2018.00" stroke="#444" stroke-width="0.7"/>
<line x1="467.80" y1="2018.00" x2="470.30" y2="2018.00" stroke="#444" stroke-width="0.7"/>
<text x="62.30" y="2021.50" font-size="8.30" text-anchor="end" fill="#1a1a1a">ENSS</text>
<text x="472.3" y="2017.00" font-size="8.35" fill="#1a1a1a">Avg. Δ <tspan font-style="italic">θ</tspan><tspan font-size="5.8" dy="1.6" font-style="italic">e</tspan><tspan dy="-1.6"> (only -) btwn parcel lifted from</tspan></text>
<text x="472.3" y="2027.20" font-size="8.35" fill="#1a1a1a">sfc. and saturated env. <tspan font-style="italic">θ</tspan><tspan font-size="5.8" dy="1.6" font-style="italic">e</tspan><tspan dy="-1.6"> (200-800 km)</tspan></text>
<text x="464.60" y="945.40" font-size="9.00" text-anchor="end" fill="#1a1a1a">Satellite SHAP=-23.3kts</text>
<text x="464.60" y="1118.40" font-size="9.00" text-anchor="end" fill="#1a1a1a">History SHAP=0.5kts</text>
<text x="464.60" y="1222.20" font-size="9.00" text-anchor="end" fill="#1a1a1a">Location SHAP=3.8kts</text>
<text x="464.60" y="1395.20" font-size="9.00" text-anchor="end" fill="#1a1a1a">Environmental SHAP=-0.4kts</text>
<text x="464.60" y="1672.00" font-size="9.00" text-anchor="end" fill="#1a1a1a">TC Dynamics SHAP=-0.1kts</text>
<line x1="68.90" y1="2035.30" x2="68.90" y2="2037.80" stroke="#444" stroke-width="0.7"/>
<text x="68.90" y="2046.60" font-size="8.00" text-anchor="middle" fill="#1a1a1a">−10</text>
<line x1="127.10" y1="2035.30" x2="127.10" y2="2037.80" stroke="#444" stroke-width="0.7"/>
<text x="127.10" y="2046.60" font-size="8.00" text-anchor="middle" fill="#1a1a1a">−8</text>
<line x1="185.30" y1="2035.30" x2="185.30" y2="2037.80" stroke="#444" stroke-width="0.7"/>
<text x="185.30" y="2046.60" font-size="8.00" text-anchor="middle" fill="#1a1a1a">−6</text>
<line x1="243.50" y1="2035.30" x2="243.50" y2="2037.80" stroke="#444" stroke-width="0.7"/>
<text x="243.50" y="2046.60" font-size="8.00" text-anchor="middle" fill="#1a1a1a">−4</text>
<line x1="301.70" y1="2035.30" x2="301.70" y2="2037.80" stroke="#444" stroke-width="0.7"/>
<text x="301.70" y="2046.60" font-size="8.00" text-anchor="middle" fill="#1a1a1a">−2</text>
<line x1="359.90" y1="2035.30" x2="359.90" y2="2037.80" stroke="#444" stroke-width="0.7"/>
<text x="359.90" y="2046.60" font-size="8.00" text-anchor="middle" fill="#1a1a1a">0</text>
<line x1="418.10" y1="2035.30" x2="418.10" y2="2037.80" stroke="#444" stroke-width="0.7"/>
<text x="418.10" y="2046.60" font-size="8.00" text-anchor="middle" fill="#1a1a1a">2</text>
<text x="267.50" y="2059.80" font-size="11.20" text-anchor="middle" fill="#1a1a1a">SHAP Value [kts]</text>
<rect x="29.40" y="2083.40" width="587.60" height="24.30" fill="url(#fv)" stroke="#444" stroke-width="0.6"/>
<text x="617.20" y="2078.80" font-size="9.66" text-anchor="end" fill="#1a1a1a">Feature Value</text>
<text x="20.30" y="2120.00" font-size="8.35" text-anchor="start" fill="#1a1a1a">Low</text>
<text x="626.00" y="2120.00" font-size="8.35" text-anchor="end" fill="#1a1a1a">High</text>
<text x="29.4" y="2135.8" font-size="9.02" fill="#1a1a1a">SHAP Value: Amount each feature [listed on Y-axis] contributes to the predicted intensity above or below <tspan text-decoration="underline">60 kts</tspan></text>
<text x="29.40" y="2150.40" font-size="9.02" text-anchor="start" fill="#1a1a1a">Feature Value: The value of the feature [listed on Y-axis] for the given TC compared to the training dataset</text>
</g>
<g id="s4">
<text x="918.00" y="915.60" font-size="11.80" text-anchor="middle" fill="#1a1a1a">Comparison of IR SHAP Values for 2025_05L at 20250813 1710UTC</text>
<g clip-path="url(#clir0)"><g filter="url(#ir0)"><rect x="688.10" y="908.00" width="260.15" height="260.15" fill="rgb(38,38,38)" stroke="none" stroke-width="1.0"/><g filter="url(#hb)"><ellipse cx="770.1" cy="1034.1" rx="78.4" ry="99.1" fill="rgb(58,58,58)" transform="rotate(0 770.1 1034.1)"/><ellipse cx="808.2" cy="958.0" rx="76.1" ry="23.1" fill="rgb(58,58,58)" transform="rotate(-10 808.2 958.0)"/><ellipse cx="886.2" cy="968.0" rx="46.1" ry="15.1" fill="rgb(58,58,58)" transform="rotate(18 886.2 968.0)"/><ellipse cx="768.1" cy="1110.1" rx="34.6" ry="11.6" fill="rgb(58,58,58)" transform="rotate(5 768.1 1110.1)"/></g><ellipse cx="770.1" cy="1034.1" rx="62.0" ry="80.1" fill="rgb(94,94,94)" transform="rotate(0 770.1 1034.1)"/><ellipse cx="808.2" cy="958.0" rx="60.0" ry="14.0" fill="rgb(92,92,92)" transform="rotate(-10 808.2 958.0)"/><ellipse cx="886.2" cy="968.0" rx="34.0" ry="7.0" fill="rgb(92,92,92)" transform="rotate(18 886.2 968.0)"/><ellipse cx="728.1" cy="948.0" rx="16.0" ry="16.0" fill="rgb(118,118,118)" transform="rotate(0 728.1 948.0)"/><ellipse cx="750.1" cy="962.0" rx="14.0" ry="10.0" fill="rgb(51,51,51)" transform="rotate(0 750.1 962.0)"/><ellipse cx="766.1" cy="1042.1" rx="50.0" ry="64.0" fill="rgb(133,133,133)" transform="rotate(0 766.1 1042.1)"/><ellipse cx="758.1" cy="1038.1" rx="32.0" ry="44.0" fill="rgb(147,147,147)" transform="rotate(0 758.1 1038.1)"/><ellipse cx="802.2" cy="982.0" rx="18.0" ry="6.0" fill="rgb(133,133,133)" transform="rotate(-15 802.2 982.0)"/><ellipse cx="842.2" cy="955.0" rx="14.0" ry="6.0" fill="rgb(149,149,149)" transform="rotate(15 842.2 955.0)"/><ellipse cx="878.2" cy="967.0" rx="7.0" ry="5.0" fill="rgb(167,167,167)" transform="rotate(25 878.2 967.0)"/><ellipse cx="895.2" cy="974.0" rx="7.0" ry="4.0" fill="rgb(155,155,155)" transform="rotate(25 895.2 974.0)"/><ellipse cx="914.2" cy="970.0" rx="6.0" ry="3.0" fill="rgb(137,137,137)" transform="rotate(0 914.2 970.0)"/><ellipse cx="742.1" cy="1002.0" rx="12.0" ry="10.0" fill="rgb(151,151,151)" transform="rotate(0 742.1 1002.0)"/><ellipse cx="738.1" cy="1052.1" rx="14.0" ry="12.0" fill="rgb(163,163,163)" transform="rotate(0 738.1 1052.1)"/><ellipse cx="762.1" cy="1090.1" rx="26.0" ry="6.0" fill="rgb(165,165,165)" transform="rotate(10 762.1 1090.1)"/><ellipse cx="732.1" cy="1082.1" rx="10.0" ry="6.0" fill="rgb(145,145,145)" transform="rotate(0 732.1 1082.1)"/><ellipse cx="798.2" cy="1058.1" rx="28.0" ry="34.0" fill="rgb(173,173,173)" transform="rotate(32 798.2 1058.1)"/><ellipse cx="774.1" cy="1022.1" rx="14.0" ry="10.0" fill="rgb(173,173,173)" transform="rotate(30 774.1 1022.1)"/><ellipse cx="786.2" cy="1026.1" rx="12.0" ry="12.0" fill="rgb(186,186,186)" transform="rotate(0 786.2 1026.1)"/><ellipse cx="822.2" cy="1058.1" rx="9.0" ry="18.0" fill="rgb(182,182,182)" transform="rotate(10 822.2 1058.1)"/><ellipse cx="811.2" cy="1047.1" rx="10.4" ry="9.6" fill="rgb(243,243,243)" transform="rotate(0 811.2 1047.1)"/><ellipse cx="854.2" cy="994.0" rx="6.0" ry="3.0" fill="rgb(128,128,128)" transform="rotate(35 854.2 994.0)"/><ellipse cx="876.2" cy="1004.0" rx="4.4" ry="4.4" fill="rgb(153,153,153)" transform="rotate(20 876.2 1004.0)"/><ellipse cx="898.2" cy="1070.1" rx="6.0" ry="3.0" fill="rgb(94,94,94)" transform="rotate(20 898.2 1070.1)"/><ellipse cx="916.2" cy="1134.1" rx="6.0" ry="6.0" fill="rgb(128,128,128)" transform="rotate(0 916.2 1134.1)"/><ellipse cx="768.1" cy="1110.1" rx="24.0" ry="4.0" fill="rgb(102,102,102)" transform="rotate(5 768.1 1110.1)"/></g></g>
<rect x="718.10" y="938.00" width="200.15" height="200.15" fill="none" stroke="#333" stroke-width="0.8"/>
<g filter="url(#sh0)"><rect x="955.70" y="938.00" width="200.15" height="200.15" fill="url(#rgsh0)"/></g>
<rect x="955.70" y="938.00" width="200.15" height="200.15" fill="none" stroke="#333" stroke-width="0.8"/>
<text x="818.18" y="934.40" font-size="11.20" text-anchor="middle" fill="#1a1a1a">0h old IR Data</text>
<text x="1055.78" y="934.40" font-size="11.20" text-anchor="middle" fill="#1a1a1a">SHAP Value=-6.27 kts</text>
<line x1="715.60" y1="956.50" x2="718.10" y2="956.50" stroke="#333" stroke-width="0.7"/>
<text x="712.40" y="960.00" font-size="10.00" text-anchor="end" fill="#1a1a1a">19</text>
<line x1="953.20" y1="956.50" x2="955.70" y2="956.50" stroke="#333" stroke-width="0.7"/>
<line x1="715.60" y1="987.94" x2="718.10" y2="987.94" stroke="#333" stroke-width="0.7"/>
<text x="712.40" y="991.44" font-size="10.00" text-anchor="end" fill="#1a1a1a">18</text>
<line x1="953.20" y1="987.94" x2="955.70" y2="987.94" stroke="#333" stroke-width="0.7"/>
<line x1="715.60" y1="1019.38" x2="718.10" y2="1019.38" stroke="#333" stroke-width="0.7"/>
<text x="712.40" y="1022.88" font-size="10.00" text-anchor="end" fill="#1a1a1a">17</text>
<line x1="953.20" y1="1019.38" x2="955.70" y2="1019.38" stroke="#333" stroke-width="0.7"/>
<line x1="715.60" y1="1050.82" x2="718.10" y2="1050.82" stroke="#333" stroke-width="0.7"/>
<text x="712.40" y="1054.32" font-size="10.00" text-anchor="end" fill="#1a1a1a">16</text>
<line x1="953.20" y1="1050.82" x2="955.70" y2="1050.82" stroke="#333" stroke-width="0.7"/>
<line x1="715.60" y1="1082.26" x2="718.10" y2="1082.26" stroke="#333" stroke-width="0.7"/>
<text x="712.40" y="1085.76" font-size="10.00" text-anchor="end" fill="#1a1a1a">15</text>
<line x1="953.20" y1="1082.26" x2="955.70" y2="1082.26" stroke="#333" stroke-width="0.7"/>
<line x1="715.60" y1="1113.70" x2="718.10" y2="1113.70" stroke="#333" stroke-width="0.7"/>
<text x="712.40" y="1117.20" font-size="10.00" text-anchor="end" fill="#1a1a1a">14</text>
<line x1="953.20" y1="1113.70" x2="955.70" y2="1113.70" stroke="#333" stroke-width="0.7"/>
<line x1="718.10" y1="1138.15" x2="718.10" y2="1140.65" stroke="#333" stroke-width="0.7"/>
<text x="718.10" y="1150.35" font-size="10.00" text-anchor="middle" fill="#1a1a1a">−46</text>
<line x1="956.10" y1="1138.15" x2="956.10" y2="1140.65" stroke="#333" stroke-width="0.7"/>
<line x1="748.35" y1="1138.15" x2="748.35" y2="1140.65" stroke="#333" stroke-width="0.7"/>
<text x="748.35" y="1150.35" font-size="10.00" text-anchor="middle" fill="#1a1a1a">−45</text>
<line x1="986.35" y1="1138.15" x2="986.35" y2="1140.65" stroke="#333" stroke-width="0.7"/>
<line x1="778.60" y1="1138.15" x2="778.60" y2="1140.65" stroke="#333" stroke-width="0.7"/>
<text x="778.60" y="1150.35" font-size="10.00" text-anchor="middle" fill="#1a1a1a">−44</text>
<line x1="1016.60" y1="1138.15" x2="1016.60" y2="1140.65" stroke="#333" stroke-width="0.7"/>
<line x1="808.85" y1="1138.15" x2="808.85" y2="1140.65" stroke="#333" stroke-width="0.7"/>
<text x="808.85" y="1150.35" font-size="10.00" text-anchor="middle" fill="#1a1a1a">−43</text>
<line x1="1046.85" y1="1138.15" x2="1046.85" y2="1140.65" stroke="#333" stroke-width="0.7"/>
<line x1="839.10" y1="1138.15" x2="839.10" y2="1140.65" stroke="#333" stroke-width="0.7"/>
<text x="839.10" y="1150.35" font-size="10.00" text-anchor="middle" fill="#1a1a1a">−42</text>
<line x1="1077.10" y1="1138.15" x2="1077.10" y2="1140.65" stroke="#333" stroke-width="0.7"/>
<line x1="869.35" y1="1138.15" x2="869.35" y2="1140.65" stroke="#333" stroke-width="0.7"/>
<text x="869.35" y="1150.35" font-size="10.00" text-anchor="middle" fill="#1a1a1a">−41</text>
<line x1="1107.35" y1="1138.15" x2="1107.35" y2="1140.65" stroke="#333" stroke-width="0.7"/>
<line x1="899.60" y1="1138.15" x2="899.60" y2="1140.65" stroke="#333" stroke-width="0.7"/>
<text x="899.60" y="1150.35" font-size="10.00" text-anchor="middle" fill="#1a1a1a">−40</text>
<line x1="1137.60" y1="1138.15" x2="1137.60" y2="1140.65" stroke="#333" stroke-width="0.7"/>
<g clip-path="url(#clir1)"><g filter="url(#ir1)"><rect x="688.10" y="1145.20" width="260.15" height="260.15" fill="rgb(38,38,38)" stroke="none" stroke-width="1.0"/><g filter="url(#hb)"><ellipse cx="762.1" cy="1255.3" rx="35.8" ry="66.9" fill="rgb(58,58,58)" transform="rotate(-15 762.1 1255.3)"/><ellipse cx="798.2" cy="1229.2" rx="46.1" ry="27.7" fill="rgb(58,58,58)" transform="rotate(-30 798.2 1229.2)"/><ellipse cx="772.1" cy="1311.3" rx="64.5" ry="30.0" fill="rgb(58,58,58)" transform="rotate(-5 772.1 1311.3)"/><ellipse cx="808.2" cy="1291.3" rx="36.9" ry="30.0" fill="rgb(58,58,58)" transform="rotate(0 808.2 1291.3)"/><ellipse cx="808.2" cy="1263.3" rx="25.4" ry="20.8" fill="rgb(58,58,58)" transform="rotate(0 808.2 1263.3)"/><ellipse cx="748.1" cy="1195.2" rx="18.5" ry="30.0" fill="rgb(58,58,58)" transform="rotate(10 748.1 1195.2)"/><ellipse cx="842.2" cy="1203.2" rx="43.8" ry="18.5" fill="rgb(58,58,58)" transform="rotate(5 842.2 1203.2)"/><ellipse cx="902.2" cy="1217.2" rx="30.0" ry="15.1" fill="rgb(58,58,58)" transform="rotate(20 902.2 1217.2)"/></g><ellipse cx="762.1" cy="1255.3" rx="25.0" ry="52.0" fill="rgb(90,90,90)" transform="rotate(-15 762.1 1255.3)"/><ellipse cx="798.2" cy="1229.2" rx="34.0" ry="18.0" fill="rgb(90,90,90)" transform="rotate(-30 798.2 1229.2)"/><ellipse cx="772.1" cy="1311.3" rx="50.0" ry="20.0" fill="rgb(90,90,90)" transform="rotate(-5 772.1 1311.3)"/><ellipse cx="808.2" cy="1291.3" rx="26.0" ry="20.0" fill="rgb(90,90,90)" transform="rotate(0 808.2 1291.3)"/><ellipse cx="808.2" cy="1263.3" rx="16.0" ry="12.0" fill="rgb(94,94,94)" transform="rotate(0 808.2 1263.3)"/><ellipse cx="748.1" cy="1195.2" rx="10.0" ry="20.0" fill="rgb(86,86,86)" transform="rotate(10 748.1 1195.2)"/><ellipse cx="842.2" cy="1203.2" rx="32.0" ry="10.0" fill="rgb(90,90,90)" transform="rotate(5 842.2 1203.2)"/><ellipse cx="902.2" cy="1217.2" rx="20.0" ry="7.0" fill="rgb(90,90,90)" transform="rotate(20 902.2 1217.2)"/><ellipse cx="762.1" cy="1259.3" rx="18.0" ry="44.0" fill="rgb(141,141,141)" transform="rotate(-15 762.1 1259.3)"/><ellipse cx="798.2" cy="1229.2" rx="24.0" ry="9.0" fill="rgb(141,141,141)" transform="rotate(-30 798.2 1229.2)"/><ellipse cx="768.1" cy="1311.3" rx="42.0" ry="15.0" fill="rgb(147,147,147)" transform="rotate(-5 768.1 1311.3)"/><ellipse cx="838.2" cy="1203.2" rx="20.0" ry="6.0" fill="rgb(141,141,141)" transform="rotate(10 838.2 1203.2)"/><ellipse cx="904.2" cy="1218.2" rx="14.0" ry="4.0" fill="rgb(145,145,145)" transform="rotate(20 904.2 1218.2)"/><ellipse cx="747.1" cy="1235.2" rx="6.0" ry="8.0" fill="rgb(180,180,180)" transform="rotate(0 747.1 1235.2)"/><ellipse cx="756.1" cy="1267.3" rx="3.6" ry="9.0" fill="rgb(165,165,165)" transform="rotate(-10 756.1 1267.3)"/><ellipse cx="794.2" cy="1229.2" rx="8.0" ry="3.0" fill="rgb(165,165,165)" transform="rotate(-20 794.2 1229.2)"/><ellipse cx="836.2" cy="1201.2" rx="6.0" ry="2.4" fill="rgb(169,169,169)" transform="rotate(10 836.2 1201.2)"/><ellipse cx="908.2" cy="1220.2" rx="4.0" ry="2.4" fill="rgb(169,169,169)" transform="rotate(20 908.2 1220.2)"/><ellipse cx="790.2" cy="1309.3" rx="24.0" ry="12.0" fill="rgb(161,161,161)" transform="rotate(-10 790.2 1309.3)"/><ellipse cx="808.2" cy="1292.3" rx="21.0" ry="15.6" fill="rgb(186,186,186)" transform="rotate(8 808.2 1292.3)"/><ellipse cx="812.2" cy="1293.3" rx="12.0" ry="9.0" fill="rgb(194,194,194)" transform="rotate(20 812.2 1293.3)"/><ellipse cx="844.2" cy="1291.3" rx="2.0" ry="8.0" fill="rgb(86,86,86)" transform="rotate(-15 844.2 1291.3)"/><ellipse cx="912.2" cy="1355.3" rx="5.0" ry="5.0" fill="rgb(90,90,90)" transform="rotate(0 912.2 1355.3)"/><ellipse cx="808.2" cy="1345.3" rx="4.0" ry="4.0" fill="rgb(82,82,82)" transform="rotate(0 808.2 1345.3)"/></g></g>
<rect x="718.10" y="1175.20" width="200.15" height="200.15" fill="none" stroke="#333" stroke-width="0.8"/>
<g filter="url(#sh1)"><rect x="955.70" y="1175.20" width="200.15" height="200.15" fill="url(#rgsh1)"/></g>
<rect x="955.70" y="1175.20" width="200.15" height="200.15" fill="none" stroke="#333" stroke-width="0.8"/>
<text x="818.18" y="1171.60" font-size="11.20" text-anchor="middle" fill="#1a1a1a">3h old IR Data</text>
<text x="1055.78" y="1171.60" font-size="11.20" text-anchor="middle" fill="#1a1a1a">SHAP Value=-3.61 kts</text>
<line x1="715.60" y1="1194.20" x2="718.10" y2="1194.20" stroke="#333" stroke-width="0.7"/>
<text x="712.40" y="1197.70" font-size="10.00" text-anchor="end" fill="#1a1a1a">19</text>
<line x1="953.20" y1="1194.20" x2="955.70" y2="1194.20" stroke="#333" stroke-width="0.7"/>
<line x1="715.60" y1="1225.64" x2="718.10" y2="1225.64" stroke="#333" stroke-width="0.7"/>
<text x="712.40" y="1229.14" font-size="10.00" text-anchor="end" fill="#1a1a1a">18</text>
<line x1="953.20" y1="1225.64" x2="955.70" y2="1225.64" stroke="#333" stroke-width="0.7"/>
<line x1="715.60" y1="1257.08" x2="718.10" y2="1257.08" stroke="#333" stroke-width="0.7"/>
<text x="712.40" y="1260.58" font-size="10.00" text-anchor="end" fill="#1a1a1a">17</text>
<line x1="953.20" y1="1257.08" x2="955.70" y2="1257.08" stroke="#333" stroke-width="0.7"/>
<line x1="715.60" y1="1288.52" x2="718.10" y2="1288.52" stroke="#333" stroke-width="0.7"/>
<text x="712.40" y="1292.02" font-size="10.00" text-anchor="end" fill="#1a1a1a">16</text>
<line x1="953.20" y1="1288.52" x2="955.70" y2="1288.52" stroke="#333" stroke-width="0.7"/>
<line x1="715.60" y1="1319.96" x2="718.10" y2="1319.96" stroke="#333" stroke-width="0.7"/>
<text x="712.40" y="1323.46" font-size="10.00" text-anchor="end" fill="#1a1a1a">15</text>
<line x1="953.20" y1="1319.96" x2="955.70" y2="1319.96" stroke="#333" stroke-width="0.7"/>
<line x1="715.60" y1="1351.40" x2="718.10" y2="1351.40" stroke="#333" stroke-width="0.7"/>
<text x="712.40" y="1354.90" font-size="10.00" text-anchor="end" fill="#1a1a1a">14</text>
<line x1="953.20" y1="1351.40" x2="955.70" y2="1351.40" stroke="#333" stroke-width="0.7"/>
<line x1="718.10" y1="1375.35" x2="718.10" y2="1377.85" stroke="#333" stroke-width="0.7"/>
<text x="718.10" y="1387.55" font-size="10.00" text-anchor="middle" fill="#1a1a1a">−46</text>
<line x1="956.10" y1="1375.35" x2="956.10" y2="1377.85" stroke="#333" stroke-width="0.7"/>
<line x1="748.35" y1="1375.35" x2="748.35" y2="1377.85" stroke="#333" stroke-width="0.7"/>
<text x="748.35" y="1387.55" font-size="10.00" text-anchor="middle" fill="#1a1a1a">−45</text>
<line x1="986.35" y1="1375.35" x2="986.35" y2="1377.85" stroke="#333" stroke-width="0.7"/>
<line x1="778.60" y1="1375.35" x2="778.60" y2="1377.85" stroke="#333" stroke-width="0.7"/>
<text x="778.60" y="1387.55" font-size="10.00" text-anchor="middle" fill="#1a1a1a">−44</text>
<line x1="1016.60" y1="1375.35" x2="1016.60" y2="1377.85" stroke="#333" stroke-width="0.7"/>
<line x1="808.85" y1="1375.35" x2="808.85" y2="1377.85" stroke="#333" stroke-width="0.7"/>
<text x="808.85" y="1387.55" font-size="10.00" text-anchor="middle" fill="#1a1a1a">−43</text>
<line x1="1046.85" y1="1375.35" x2="1046.85" y2="1377.85" stroke="#333" stroke-width="0.7"/>
<line x1="839.10" y1="1375.35" x2="839.10" y2="1377.85" stroke="#333" stroke-width="0.7"/>
<text x="839.10" y="1387.55" font-size="10.00" text-anchor="middle" fill="#1a1a1a">−42</text>
<line x1="1077.10" y1="1375.35" x2="1077.10" y2="1377.85" stroke="#333" stroke-width="0.7"/>
<line x1="869.35" y1="1375.35" x2="869.35" y2="1377.85" stroke="#333" stroke-width="0.7"/>
<text x="869.35" y="1387.55" font-size="10.00" text-anchor="middle" fill="#1a1a1a">−41</text>
<line x1="1107.35" y1="1375.35" x2="1107.35" y2="1377.85" stroke="#333" stroke-width="0.7"/>
<line x1="899.60" y1="1375.35" x2="899.60" y2="1377.85" stroke="#333" stroke-width="0.7"/>
<text x="899.60" y="1387.55" font-size="10.00" text-anchor="middle" fill="#1a1a1a">−40</text>
<line x1="1137.60" y1="1375.35" x2="1137.60" y2="1377.85" stroke="#333" stroke-width="0.7"/>
<g clip-path="url(#clir2)"><g filter="url(#ir2)"><rect x="688.10" y="1383.10" width="260.15" height="260.15" fill="rgb(38,38,38)" stroke="none" stroke-width="1.0"/><g filter="url(#hb)"><ellipse cx="792.2" cy="1521.2" rx="73.8" ry="55.3" fill="rgb(58,58,58)" transform="rotate(0 792.2 1521.2)"/><ellipse cx="798.2" cy="1465.1" rx="53.0" ry="23.1" fill="rgb(58,58,58)" transform="rotate(-25 798.2 1465.1)"/><ellipse cx="748.1" cy="1443.1" rx="43.8" ry="43.8" fill="rgb(58,58,58)" transform="rotate(0 748.1 1443.1)"/><ellipse cx="818.2" cy="1497.2" rx="30.0" ry="23.1" fill="rgb(58,58,58)" transform="rotate(0 818.2 1497.2)"/><ellipse cx="854.2" cy="1447.1" rx="34.6" ry="16.2" fill="rgb(58,58,58)" transform="rotate(-10 854.2 1447.1)"/><ellipse cx="868.2" cy="1479.1" rx="34.6" ry="13.9" fill="rgb(58,58,58)" transform="rotate(35 868.2 1479.1)"/><ellipse cx="878.2" cy="1529.2" rx="18.5" ry="18.5" fill="rgb(58,58,58)" transform="rotate(0 878.2 1529.2)"/><ellipse cx="812.2" cy="1567.2" rx="23.1" ry="20.8" fill="rgb(58,58,58)" transform="rotate(0 812.2 1567.2)"/><ellipse cx="898.2" cy="1439.1" rx="23.1" ry="10.5" fill="rgb(58,58,58)" transform="rotate(10 898.2 1439.1)"/></g><ellipse cx="792.2" cy="1521.2" rx="58.0" ry="42.0" fill="rgb(90,90,90)" transform="rotate(0 792.2 1521.2)"/><ellipse cx="798.2" cy="1465.1" rx="40.0" ry="14.0" fill="rgb(90,90,90)" transform="rotate(-25 798.2 1465.1)"/><ellipse cx="748.1" cy="1443.1" rx="32.0" ry="32.0" fill="rgb(86,86,86)" transform="rotate(0 748.1 1443.1)"/><ellipse cx="818.2" cy="1497.2" rx="20.0" ry="14.0" fill="rgb(82,82,82)" transform="rotate(0 818.2 1497.2)"/><ellipse cx="854.2" cy="1447.1" rx="24.0" ry="8.0" fill="rgb(90,90,90)" transform="rotate(-10 854.2 1447.1)"/><ellipse cx="868.2" cy="1479.1" rx="24.0" ry="6.0" fill="rgb(90,90,90)" transform="rotate(35 868.2 1479.1)"/><ellipse cx="878.2" cy="1529.2" rx="10.0" ry="10.0" fill="rgb(90,90,90)" transform="rotate(0 878.2 1529.2)"/><ellipse cx="812.2" cy="1567.2" rx="14.0" ry="12.0" fill="rgb(90,90,90)" transform="rotate(0 812.2 1567.2)"/><ellipse cx="898.2" cy="1439.1" rx="14.0" ry="3.0" fill="rgb(86,86,86)" transform="rotate(10 898.2 1439.1)"/><ellipse cx="790.2" cy="1525.2" rx="52.0" ry="34.0" fill="rgb(137,137,137)" transform="rotate(-5 790.2 1525.2)"/><ellipse cx="798.2" cy="1465.1" rx="32.0" ry="8.0" fill="rgb(137,137,137)" transform="rotate(-25 798.2 1465.1)"/><ellipse cx="732.1" cy="1507.2" rx="5.0" ry="12.0" fill="rgb(133,133,133)" transform="rotate(-30 732.1 1507.2)"/><ellipse cx="850.2" cy="1444.1" rx="12.0" ry="5.0" fill="rgb(141,141,141)" transform="rotate(-15 850.2 1444.1)"/><ellipse cx="862.2" cy="1445.1" rx="6.0" ry="4.0" fill="rgb(161,161,161)" transform="rotate(-15 862.2 1445.1)"/><ellipse cx="850.2" cy="1473.1" rx="9.0" ry="4.4" fill="rgb(129,129,129)" transform="rotate(10 850.2 1473.1)"/><ellipse cx="876.2" cy="1487.2" rx="14.0" ry="2.4" fill="rgb(126,126,126)" transform="rotate(40 876.2 1487.2)"/><ellipse cx="878.2" cy="1529.2" rx="6.0" ry="6.0" fill="rgb(137,137,137)" transform="rotate(-30 878.2 1529.2)"/><ellipse cx="910.2" cy="1553.2" rx="7.0" ry="4.0" fill="rgb(149,149,149)" transform="rotate(-15 910.2 1553.2)"/><ellipse cx="914.2" cy="1581.2" rx="6.0" ry="2.4" fill="rgb(137,137,137)" transform="rotate(0 914.2 1581.2)"/><ellipse cx="898.2" cy="1606.2" rx="14.0" ry="4.0" fill="rgb(137,137,137)" transform="rotate(-10 898.2 1606.2)"/><ellipse cx="810.2" cy="1569.2" rx="8.0" ry="6.0" fill="rgb(129,129,129)" transform="rotate(0 810.2 1569.2)"/><ellipse cx="734.1" cy="1417.1" rx="8.0" ry="4.0" fill="rgb(129,129,129)" transform="rotate(0 734.1 1417.1)"/><ellipse cx="768.1" cy="1423.1" rx="6.0" ry="6.0" fill="rgb(129,129,129)" transform="rotate(0 768.1 1423.1)"/><ellipse cx="726.1" cy="1441.1" rx="6.0" ry="4.0" fill="rgb(126,126,126)" transform="rotate(0 726.1 1441.1)"/><ellipse cx="722.1" cy="1473.1" rx="4.0" ry="6.0" fill="rgb(126,126,126)" transform="rotate(0 722.1 1473.1)"/><ellipse cx="784.1" cy="1523.2" rx="44.0" ry="26.0" fill="rgb(155,155,155)" transform="rotate(-5 784.1 1523.2)"/><ellipse cx="772.1" cy="1477.1" rx="6.0" ry="6.0" fill="rgb(165,165,165)" transform="rotate(0 772.1 1477.1)"/><ellipse cx="790.2" cy="1465.1" rx="2.4" ry="2.4" fill="rgb(180,180,180)" transform="rotate(0 790.2 1465.1)"/><ellipse cx="798.2" cy="1530.2" rx="38.0" ry="16.0" fill="rgb(177,177,177)" transform="rotate(-5 798.2 1530.2)"/><ellipse cx="806.2" cy="1525.2" rx="14.0" ry="8.0" fill="rgb(188,188,188)" transform="rotate(-20 806.2 1525.2)"/></g></g>
<rect x="718.10" y="1413.10" width="200.15" height="200.15" fill="none" stroke="#333" stroke-width="0.8"/>
<g filter="url(#sh2)"><rect x="955.70" y="1413.10" width="200.15" height="200.15" fill="url(#rgsh2)"/></g>
<rect x="955.70" y="1413.10" width="200.15" height="200.15" fill="none" stroke="#333" stroke-width="0.8"/>
<text x="818.18" y="1409.50" font-size="11.20" text-anchor="middle" fill="#1a1a1a">6h old IR Data</text>
<text x="1055.78" y="1409.50" font-size="11.20" text-anchor="middle" fill="#1a1a1a">SHAP Value=-3.44 kts</text>
<line x1="715.60" y1="1432.20" x2="718.10" y2="1432.20" stroke="#333" stroke-width="0.7"/>
<text x="712.40" y="1435.70" font-size="10.00" text-anchor="end" fill="#1a1a1a">19</text>
<line x1="953.20" y1="1432.20" x2="955.70" y2="1432.20" stroke="#333" stroke-width="0.7"/>
<line x1="715.60" y1="1463.64" x2="718.10" y2="1463.64" stroke="#333" stroke-width="0.7"/>
<text x="712.40" y="1467.14" font-size="10.00" text-anchor="end" fill="#1a1a1a">18</text>
<line x1="953.20" y1="1463.64" x2="955.70" y2="1463.64" stroke="#333" stroke-width="0.7"/>
<line x1="715.60" y1="1495.08" x2="718.10" y2="1495.08" stroke="#333" stroke-width="0.7"/>
<text x="712.40" y="1498.58" font-size="10.00" text-anchor="end" fill="#1a1a1a">17</text>
<line x1="953.20" y1="1495.08" x2="955.70" y2="1495.08" stroke="#333" stroke-width="0.7"/>
<line x1="715.60" y1="1526.52" x2="718.10" y2="1526.52" stroke="#333" stroke-width="0.7"/>
<text x="712.40" y="1530.02" font-size="10.00" text-anchor="end" fill="#1a1a1a">16</text>
<line x1="953.20" y1="1526.52" x2="955.70" y2="1526.52" stroke="#333" stroke-width="0.7"/>
<line x1="715.60" y1="1557.96" x2="718.10" y2="1557.96" stroke="#333" stroke-width="0.7"/>
<text x="712.40" y="1561.46" font-size="10.00" text-anchor="end" fill="#1a1a1a">15</text>
<line x1="953.20" y1="1557.96" x2="955.70" y2="1557.96" stroke="#333" stroke-width="0.7"/>
<line x1="715.60" y1="1589.40" x2="718.10" y2="1589.40" stroke="#333" stroke-width="0.7"/>
<text x="712.40" y="1592.90" font-size="10.00" text-anchor="end" fill="#1a1a1a">14</text>
<line x1="953.20" y1="1589.40" x2="955.70" y2="1589.40" stroke="#333" stroke-width="0.7"/>
<line x1="742.30" y1="1613.25" x2="742.30" y2="1615.75" stroke="#333" stroke-width="0.7"/>
<text x="742.30" y="1625.45" font-size="10.00" text-anchor="middle" fill="#1a1a1a">−45</text>
<line x1="980.30" y1="1613.25" x2="980.30" y2="1615.75" stroke="#333" stroke-width="0.7"/>
<line x1="772.44" y1="1613.25" x2="772.44" y2="1615.75" stroke="#333" stroke-width="0.7"/>
<text x="772.44" y="1625.45" font-size="10.00" text-anchor="middle" fill="#1a1a1a">−44</text>
<line x1="1010.44" y1="1613.25" x2="1010.44" y2="1615.75" stroke="#333" stroke-width="0.7"/>
<line x1="802.58" y1="1613.25" x2="802.58" y2="1615.75" stroke="#333" stroke-width="0.7"/>
<text x="802.58" y="1625.45" font-size="10.00" text-anchor="middle" fill="#1a1a1a">−43</text>
<line x1="1040.58" y1="1613.25" x2="1040.58" y2="1615.75" stroke="#333" stroke-width="0.7"/>
<line x1="832.72" y1="1613.25" x2="832.72" y2="1615.75" stroke="#333" stroke-width="0.7"/>
<text x="832.72" y="1625.45" font-size="10.00" text-anchor="middle" fill="#1a1a1a">−42</text>
<line x1="1070.72" y1="1613.25" x2="1070.72" y2="1615.75" stroke="#333" stroke-width="0.7"/>
<line x1="862.86" y1="1613.25" x2="862.86" y2="1615.75" stroke="#333" stroke-width="0.7"/>
<text x="862.86" y="1625.45" font-size="10.00" text-anchor="middle" fill="#1a1a1a">−41</text>
<line x1="1100.86" y1="1613.25" x2="1100.86" y2="1615.75" stroke="#333" stroke-width="0.7"/>
<line x1="893.00" y1="1613.25" x2="893.00" y2="1615.75" stroke="#333" stroke-width="0.7"/>
<text x="893.00" y="1625.45" font-size="10.00" text-anchor="middle" fill="#1a1a1a">−40</text>
<line x1="1131.00" y1="1613.25" x2="1131.00" y2="1615.75" stroke="#333" stroke-width="0.7"/>
<g clip-path="url(#clir3)"><g filter="url(#ir3)"><rect x="688.10" y="1620.40" width="260.15" height="260.15" fill="rgb(38,38,38)" stroke="none" stroke-width="1.0"/><g filter="url(#hb)"><ellipse cx="798.2" cy="1754.5" rx="65.7" ry="70.3" fill="rgb(58,58,58)" transform="rotate(0 798.2 1754.5)"/><ellipse cx="790.2" cy="1678.4" rx="62.2" ry="36.9" fill="rgb(58,58,58)" transform="rotate(0 790.2 1678.4)"/><ellipse cx="742.1" cy="1674.4" rx="18.5" ry="25.4" fill="rgb(58,58,58)" transform="rotate(15 742.1 1674.4)"/><ellipse cx="862.2" cy="1732.5" rx="34.6" ry="15.1" fill="rgb(58,58,58)" transform="rotate(25 862.2 1732.5)"/><ellipse cx="854.2" cy="1760.5" rx="18.5" ry="23.1" fill="rgb(58,58,58)" transform="rotate(0 854.2 1760.5)"/><ellipse cx="842.2" cy="1794.5" rx="18.5" ry="27.7" fill="rgb(58,58,58)" transform="rotate(30 842.2 1794.5)"/><ellipse cx="878.2" cy="1692.4" rx="23.1" ry="13.9" fill="rgb(58,58,58)" transform="rotate(-10 878.2 1692.4)"/><ellipse cx="904.2" cy="1682.4" rx="20.8" ry="11.6" fill="rgb(58,58,58)" transform="rotate(0 904.2 1682.4)"/></g><ellipse cx="798.2" cy="1754.5" rx="51.0" ry="55.0" fill="rgb(90,90,90)" transform="rotate(0 798.2 1754.5)"/><ellipse cx="790.2" cy="1678.4" rx="48.0" ry="26.0" fill="rgb(94,94,94)" transform="rotate(0 790.2 1678.4)"/><ellipse cx="742.1" cy="1674.4" rx="10.0" ry="16.0" fill="rgb(98,98,98)" transform="rotate(15 742.1 1674.4)"/><ellipse cx="862.2" cy="1732.5" rx="24.0" ry="7.0" fill="rgb(90,90,90)" transform="rotate(25 862.2 1732.5)"/><ellipse cx="854.2" cy="1760.5" rx="10.0" ry="14.0" fill="rgb(90,90,90)" transform="rotate(0 854.2 1760.5)"/><ellipse cx="842.2" cy="1794.5" rx="10.0" ry="18.0" fill="rgb(90,90,90)" transform="rotate(30 842.2 1794.5)"/><ellipse cx="878.2" cy="1692.4" rx="14.0" ry="6.0" fill="rgb(90,90,90)" transform="rotate(-10 878.2 1692.4)"/><ellipse cx="904.2" cy="1682.4" rx="12.0" ry="4.0" fill="rgb(86,86,86)" transform="rotate(0 904.2 1682.4)"/><ellipse cx="878.2" cy="1782.5" rx="8.0" ry="7.0" fill="rgb(90,90,90)" transform="rotate(-30 878.2 1782.5)"/><ellipse cx="818.2" cy="1816.5" rx="6.0" ry="6.0" fill="rgb(90,90,90)" transform="rotate(0 818.2 1816.5)"/><ellipse cx="724.1" cy="1778.5" rx="6.0" ry="4.0" fill="rgb(86,86,86)" transform="rotate(0 724.1 1778.5)"/><ellipse cx="798.2" cy="1754.5" rx="44.0" ry="50.0" fill="rgb(133,133,133)" transform="rotate(0 798.2 1754.5)"/><ellipse cx="742.1" cy="1670.4" rx="6.0" ry="9.0" fill="rgb(126,126,126)" transform="rotate(20 742.1 1670.4)"/><ellipse cx="832.2" cy="1690.4" rx="8.0" ry="10.0" fill="rgb(118,118,118)" transform="rotate(0 832.2 1690.4)"/><ellipse cx="754.1" cy="1740.5" rx="4.0" ry="12.0" fill="rgb(137,137,137)" transform="rotate(-30 754.1 1740.5)"/><ellipse cx="862.2" cy="1730.5" rx="12.0" ry="4.0" fill="rgb(141,141,141)" transform="rotate(25 862.2 1730.5)"/><ellipse cx="854.2" cy="1754.5" rx="5.0" ry="7.0" fill="rgb(126,126,126)" transform="rotate(0 854.2 1754.5)"/><ellipse cx="842.2" cy="1794.5" rx="5.0" ry="14.0" fill="rgb(133,133,133)" transform="rotate(30 842.2 1794.5)"/><ellipse cx="874.2" cy="1694.4" rx="9.0" ry="3.6" fill="rgb(137,137,137)" transform="rotate(-10 874.2 1694.4)"/><ellipse cx="880.2" cy="1784.5" rx="4.0" ry="4.0" fill="rgb(129,129,129)" transform="rotate(0 880.2 1784.5)"/><ellipse cx="798.2" cy="1760.5" rx="36.0" ry="40.0" fill="rgb(157,157,157)" transform="rotate(0 798.2 1760.5)"/><ellipse cx="774.1" cy="1786.5" rx="20.0" ry="9.0" fill="rgb(165,165,165)" transform="rotate(0 774.1 1786.5)"/><ellipse cx="868.2" cy="1734.5" rx="4.0" ry="2.4" fill="rgb(165,165,165)" transform="rotate(30 868.2 1734.5)"/><ellipse cx="790.2" cy="1742.5" rx="23.0" ry="24.0" fill="rgb(184,184,184)" transform="rotate(0 790.2 1742.5)"/><ellipse cx="790.2" cy="1740.5" rx="14.0" ry="16.0" fill="rgb(196,196,196)" transform="rotate(0 790.2 1740.5)"/><ellipse cx="818.2" cy="1772.5" rx="20.0" ry="20.0" fill="rgb(178,178,178)" transform="rotate(0 818.2 1772.5)"/><ellipse cx="818.2" cy="1770.5" rx="8.0" ry="8.0" fill="rgb(184,184,184)" transform="rotate(0 818.2 1770.5)"/></g></g>
<rect x="718.10" y="1650.40" width="200.15" height="200.15" fill="none" stroke="#333" stroke-width="0.8"/>
<g filter="url(#sh3)"><rect x="955.70" y="1650.40" width="200.15" height="200.15" fill="url(#rgsh3)"/></g>
<rect x="955.70" y="1650.40" width="200.15" height="200.15" fill="none" stroke="#333" stroke-width="0.8"/>
<text x="818.18" y="1646.80" font-size="11.20" text-anchor="middle" fill="#1a1a1a">9h old IR Data</text>
<text x="1055.78" y="1646.80" font-size="11.20" text-anchor="middle" fill="#1a1a1a">SHAP Value=-0.55 kts</text>
<line x1="715.60" y1="1672.30" x2="718.10" y2="1672.30" stroke="#333" stroke-width="0.7"/>
<text x="712.40" y="1675.80" font-size="10.00" text-anchor="end" fill="#1a1a1a">19</text>
<line x1="953.20" y1="1672.30" x2="955.70" y2="1672.30" stroke="#333" stroke-width="0.7"/>
<line x1="715.60" y1="1703.74" x2="718.10" y2="1703.74" stroke="#333" stroke-width="0.7"/>
<text x="712.40" y="1707.24" font-size="10.00" text-anchor="end" fill="#1a1a1a">18</text>
<line x1="953.20" y1="1703.74" x2="955.70" y2="1703.74" stroke="#333" stroke-width="0.7"/>
<line x1="715.60" y1="1735.18" x2="718.10" y2="1735.18" stroke="#333" stroke-width="0.7"/>
<text x="712.40" y="1738.68" font-size="10.00" text-anchor="end" fill="#1a1a1a">17</text>
<line x1="953.20" y1="1735.18" x2="955.70" y2="1735.18" stroke="#333" stroke-width="0.7"/>
<line x1="715.60" y1="1766.62" x2="718.10" y2="1766.62" stroke="#333" stroke-width="0.7"/>
<text x="712.40" y="1770.12" font-size="10.00" text-anchor="end" fill="#1a1a1a">16</text>
<line x1="953.20" y1="1766.62" x2="955.70" y2="1766.62" stroke="#333" stroke-width="0.7"/>
<line x1="715.60" y1="1798.06" x2="718.10" y2="1798.06" stroke="#333" stroke-width="0.7"/>
<text x="712.40" y="1801.56" font-size="10.00" text-anchor="end" fill="#1a1a1a">15</text>
<line x1="953.20" y1="1798.06" x2="955.70" y2="1798.06" stroke="#333" stroke-width="0.7"/>
<line x1="715.60" y1="1829.50" x2="718.10" y2="1829.50" stroke="#333" stroke-width="0.7"/>
<text x="712.40" y="1833.00" font-size="10.00" text-anchor="end" fill="#1a1a1a">14</text>
<line x1="953.20" y1="1829.50" x2="955.70" y2="1829.50" stroke="#333" stroke-width="0.7"/>
<line x1="746.90" y1="1850.55" x2="746.90" y2="1853.05" stroke="#333" stroke-width="0.7"/>
<text x="746.90" y="1862.75" font-size="10.00" text-anchor="middle" fill="#1a1a1a">−44</text>
<line x1="984.90" y1="1850.55" x2="984.90" y2="1853.05" stroke="#333" stroke-width="0.7"/>
<line x1="777.03" y1="1850.55" x2="777.03" y2="1853.05" stroke="#333" stroke-width="0.7"/>
<text x="777.03" y="1862.75" font-size="10.00" text-anchor="middle" fill="#1a1a1a">−43</text>
<line x1="1015.03" y1="1850.55" x2="1015.03" y2="1853.05" stroke="#333" stroke-width="0.7"/>
<line x1="807.16" y1="1850.55" x2="807.16" y2="1853.05" stroke="#333" stroke-width="0.7"/>
<text x="807.16" y="1862.75" font-size="10.00" text-anchor="middle" fill="#1a1a1a">−42</text>
<line x1="1045.16" y1="1850.55" x2="1045.16" y2="1853.05" stroke="#333" stroke-width="0.7"/>
<line x1="837.29" y1="1850.55" x2="837.29" y2="1853.05" stroke="#333" stroke-width="0.7"/>
<text x="837.29" y="1862.75" font-size="10.00" text-anchor="middle" fill="#1a1a1a">−41</text>
<line x1="1075.29" y1="1850.55" x2="1075.29" y2="1853.05" stroke="#333" stroke-width="0.7"/>
<line x1="867.42" y1="1850.55" x2="867.42" y2="1853.05" stroke="#333" stroke-width="0.7"/>
<text x="867.42" y="1862.75" font-size="10.00" text-anchor="middle" fill="#1a1a1a">−40</text>
<line x1="1105.42" y1="1850.55" x2="1105.42" y2="1853.05" stroke="#333" stroke-width="0.7"/>
<line x1="897.55" y1="1850.55" x2="897.55" y2="1853.05" stroke="#333" stroke-width="0.7"/>
<text x="897.55" y="1862.75" font-size="10.00" text-anchor="middle" fill="#1a1a1a">−39</text>
<line x1="1135.55" y1="1850.55" x2="1135.55" y2="1853.05" stroke="#333" stroke-width="0.7"/>
<g clip-path="url(#clir4)"><g filter="url(#ir4)"><rect x="688.10" y="1858.20" width="260.15" height="260.15" fill="rgb(38,38,38)" stroke="none" stroke-width="1.0"/><g filter="url(#hb)"><ellipse cx="806.2" cy="1972.3" rx="62.2" ry="99.1" fill="rgb(58,58,58)" transform="rotate(0 806.2 1972.3)"/><ellipse cx="814.2" cy="1912.2" rx="62.2" ry="39.2" fill="rgb(58,58,58)" transform="rotate(0 814.2 1912.2)"/><ellipse cx="878.2" cy="1942.2" rx="48.4" ry="17.4" fill="rgb(58,58,58)" transform="rotate(12 878.2 1942.2)"/><ellipse cx="750.1" cy="1952.2" rx="20.8" ry="34.6" fill="rgb(58,58,58)" transform="rotate(10 750.1 1952.2)"/><ellipse cx="762.1" cy="2008.3" rx="20.8" ry="34.6" fill="rgb(58,58,58)" transform="rotate(-25 762.1 2008.3)"/><ellipse cx="778.1" cy="2028.3" rx="39.2" ry="20.8" fill="rgb(58,58,58)" transform="rotate(0 778.1 2028.3)"/><ellipse cx="852.2" cy="1992.3" rx="30.0" ry="34.6" fill="rgb(58,58,58)" transform="rotate(0 852.2 1992.3)"/><ellipse cx="850.2" cy="2032.3" rx="25.4" ry="18.5" fill="rgb(58,58,58)" transform="rotate(-30 850.2 2032.3)"/><ellipse cx="802.2" cy="2052.3" rx="34.6" ry="16.2" fill="rgb(58,58,58)" transform="rotate(10 802.2 2052.3)"/><ellipse cx="898.2" cy="1902.2" rx="20.8" ry="12.8" fill="rgb(58,58,58)" transform="rotate(-10 898.2 1902.2)"/><ellipse cx="758.1" cy="1898.2" rx="18.5" ry="11.6" fill="rgb(58,58,58)" transform="rotate(-40 758.1 1898.2)"/></g><ellipse cx="806.2" cy="1972.3" rx="48.0" ry="80.1" fill="rgb(92,92,92)" transform="rotate(0 806.2 1972.3)"/><ellipse cx="814.2" cy="1912.2" rx="48.0" ry="28.0" fill="rgb(94,94,94)" transform="rotate(0 814.2 1912.2)"/><ellipse cx="878.2" cy="1942.2" rx="36.0" ry="9.0" fill="rgb(90,90,90)" transform="rotate(12 878.2 1942.2)"/><ellipse cx="750.1" cy="1952.2" rx="12.0" ry="24.0" fill="rgb(90,90,90)" transform="rotate(10 750.1 1952.2)"/><ellipse cx="762.1" cy="2008.3" rx="12.0" ry="24.0" fill="rgb(90,90,90)" transform="rotate(-25 762.1 2008.3)"/><ellipse cx="778.1" cy="2028.3" rx="28.0" ry="12.0" fill="rgb(90,90,90)" transform="rotate(0 778.1 2028.3)"/><ellipse cx="852.2" cy="1992.3" rx="20.0" ry="24.0" fill="rgb(94,94,94)" transform="rotate(0 852.2 1992.3)"/><ellipse cx="850.2" cy="2032.3" rx="16.0" ry="10.0" fill="rgb(90,90,90)" transform="rotate(-30 850.2 2032.3)"/><ellipse cx="802.2" cy="2052.3" rx="24.0" ry="8.0" fill="rgb(90,90,90)" transform="rotate(10 802.2 2052.3)"/><ellipse cx="898.2" cy="1902.2" rx="12.0" ry="5.0" fill="rgb(94,94,94)" transform="rotate(-10 898.2 1902.2)"/><ellipse cx="758.1" cy="1898.2" rx="10.0" ry="4.0" fill="rgb(94,94,94)" transform="rotate(-40 758.1 1898.2)"/><ellipse cx="878.2" cy="2000.3" rx="6.0" ry="8.0" fill="rgb(90,90,90)" transform="rotate(0 878.2 2000.3)"/><ellipse cx="728.1" cy="2004.3" rx="3.0" ry="4.0" fill="rgb(90,90,90)" transform="rotate(0 728.1 2004.3)"/><ellipse cx="808.2" cy="1988.3" rx="34.0" ry="54.0" fill="rgb(133,133,133)" transform="rotate(0 808.2 1988.3)"/><ellipse cx="808.2" cy="1900.2" rx="16.0" ry="10.0" fill="rgb(129,129,129)" transform="rotate(0 808.2 1900.2)"/><ellipse cx="838.2" cy="1914.2" rx="18.0" ry="16.0" fill="rgb(141,141,141)" transform="rotate(-20 838.2 1914.2)"/><ellipse cx="874.2" cy="1943.2" rx="16.0" ry="5.0" fill="rgb(145,145,145)" transform="rotate(10 874.2 1943.2)"/><ellipse cx="902.2" cy="1948.2" rx="6.0" ry="3.0" fill="rgb(126,126,126)" transform="rotate(10 902.2 1948.2)"/><ellipse cx="752.1" cy="1948.2" rx="5.0" ry="9.0" fill="rgb(133,133,133)" transform="rotate(20 752.1 1948.2)"/><ellipse cx="758.1" cy="1896.2" rx="8.0" ry="2.4" fill="rgb(129,129,129)" transform="rotate(-40 758.1 1896.2)"/><ellipse cx="762.1" cy="2002.3" rx="5.0" ry="16.0" fill="rgb(137,137,137)" transform="rotate(-25 762.1 2002.3)"/><ellipse cx="768.1" cy="2026.3" rx="18.0" ry="6.0" fill="rgb(137,137,137)" transform="rotate(0 768.1 2026.3)"/><ellipse cx="798.2" cy="2050.3" rx="14.0" ry="3.6" fill="rgb(129,129,129)" transform="rotate(10 798.2 2050.3)"/><ellipse cx="850.2" cy="2032.3" rx="11.0" ry="4.4" fill="rgb(135,135,135)" transform="rotate(-30 850.2 2032.3)"/><ellipse cx="838.2" cy="2054.3" rx="6.0" ry="2.4" fill="rgb(126,126,126)" transform="rotate(-30 838.2 2054.3)"/><ellipse cx="898.2" cy="1902.2" rx="6.0" ry="2.4" fill="rgb(122,122,122)" transform="rotate(-10 898.2 1902.2)"/><ellipse cx="868.2" cy="2004.3" rx="2.4" ry="4.0" fill="rgb(126,126,126)" transform="rotate(0 868.2 2004.3)"/><ellipse cx="722.1" cy="1960.3" rx="3.0" ry="4.0" fill="rgb(133,133,133)" transform="rotate(0 722.1 1960.3)"/><ellipse cx="804.2" cy="1992.3" rx="26.0" ry="44.0" fill="rgb(157,157,157)" transform="rotate(0 804.2 1992.3)"/><ellipse cx="846.2" cy="1932.2" rx="6.0" ry="4.0" fill="rgb(161,161,161)" transform="rotate(30 846.2 1932.2)"/><ellipse cx="878.2" cy="1998.3" rx="2.4" ry="4.0" fill="rgb(157,157,157)" transform="rotate(0 878.2 1998.3)"/><ellipse cx="914.2" cy="2074.3" rx="4.0" ry="2.4" fill="rgb(149,149,149)" transform="rotate(0 914.2 2074.3)"/><ellipse cx="802.2" cy="1988.3" rx="20.0" ry="33.0" fill="rgb(180,180,180)" transform="rotate(5 802.2 1988.3)"/><ellipse cx="804.2" cy="1974.3" rx="10.0" ry="14.0" fill="rgb(192,192,192)" transform="rotate(0 804.2 1974.3)"/><ellipse cx="806.2" cy="1970.3" rx="2.4" ry="2.4" fill="rgb(215,215,215)" transform="rotate(0 806.2 1970.3)"/><ellipse cx="830.2" cy="2022.3" rx="12.4" ry="8.4" fill="rgb(184,184,184)" transform="rotate(-25 830.2 2022.3)"/></g></g>
<rect x="718.10" y="1888.20" width="200.15" height="200.15" fill="none" stroke="#333" stroke-width="0.8"/>
<g filter="url(#sh4)"><rect x="955.70" y="1888.20" width="200.15" height="200.15" fill="url(#rgsh4)"/></g>
<rect x="955.70" y="1888.20" width="200.15" height="200.15" fill="none" stroke="#333" stroke-width="0.8"/>
<text x="818.18" y="1884.60" font-size="11.20" text-anchor="middle" fill="#1a1a1a">12h old IR Data</text>
<text x="1055.78" y="1884.60" font-size="11.20" text-anchor="middle" fill="#1a1a1a">SHAP Value=-9.43 kts</text>
<line x1="715.60" y1="1913.20" x2="718.10" y2="1913.20" stroke="#333" stroke-width="0.7"/>
<text x="712.40" y="1916.70" font-size="10.00" text-anchor="end" fill="#1a1a1a">19</text>
<line x1="953.20" y1="1913.20" x2="955.70" y2="1913.20" stroke="#333" stroke-width="0.7"/>
<line x1="715.60" y1="1944.64" x2="718.10" y2="1944.64" stroke="#333" stroke-width="0.7"/>
<text x="712.40" y="1948.14" font-size="10.00" text-anchor="end" fill="#1a1a1a">18</text>
<line x1="953.20" y1="1944.64" x2="955.70" y2="1944.64" stroke="#333" stroke-width="0.7"/>
<line x1="715.60" y1="1976.08" x2="718.10" y2="1976.08" stroke="#333" stroke-width="0.7"/>
<text x="712.40" y="1979.58" font-size="10.00" text-anchor="end" fill="#1a1a1a">17</text>
<line x1="953.20" y1="1976.08" x2="955.70" y2="1976.08" stroke="#333" stroke-width="0.7"/>
<line x1="715.60" y1="2007.52" x2="718.10" y2="2007.52" stroke="#333" stroke-width="0.7"/>
<text x="712.40" y="2011.02" font-size="10.00" text-anchor="end" fill="#1a1a1a">16</text>
<line x1="953.20" y1="2007.52" x2="955.70" y2="2007.52" stroke="#333" stroke-width="0.7"/>
<line x1="715.60" y1="2038.96" x2="718.10" y2="2038.96" stroke="#333" stroke-width="0.7"/>
<text x="712.40" y="2042.46" font-size="10.00" text-anchor="end" fill="#1a1a1a">15</text>
<line x1="953.20" y1="2038.96" x2="955.70" y2="2038.96" stroke="#333" stroke-width="0.7"/>
<line x1="715.60" y1="2070.40" x2="718.10" y2="2070.40" stroke="#333" stroke-width="0.7"/>
<text x="712.40" y="2073.90" font-size="10.00" text-anchor="end" fill="#1a1a1a">14</text>
<line x1="953.20" y1="2070.40" x2="955.70" y2="2070.40" stroke="#333" stroke-width="0.7"/>
<line x1="721.30" y1="2088.35" x2="721.30" y2="2090.85" stroke="#333" stroke-width="0.7"/>
<text x="721.30" y="2100.55" font-size="10.00" text-anchor="middle" fill="#1a1a1a">−44</text>
<line x1="959.30" y1="2088.35" x2="959.30" y2="2090.85" stroke="#333" stroke-width="0.7"/>
<line x1="751.42" y1="2088.35" x2="751.42" y2="2090.85" stroke="#333" stroke-width="0.7"/>
<text x="751.42" y="2100.55" font-size="10.00" text-anchor="middle" fill="#1a1a1a">−43</text>
<line x1="989.42" y1="2088.35" x2="989.42" y2="2090.85" stroke="#333" stroke-width="0.7"/>
<line x1="781.54" y1="2088.35" x2="781.54" y2="2090.85" stroke="#333" stroke-width="0.7"/>
<text x="781.54" y="2100.55" font-size="10.00" text-anchor="middle" fill="#1a1a1a">−42</text>
<line x1="1019.54" y1="2088.35" x2="1019.54" y2="2090.85" stroke="#333" stroke-width="0.7"/>
<line x1="811.66" y1="2088.35" x2="811.66" y2="2090.85" stroke="#333" stroke-width="0.7"/>
<text x="811.66" y="2100.55" font-size="10.00" text-anchor="middle" fill="#1a1a1a">−41</text>
<line x1="1049.66" y1="2088.35" x2="1049.66" y2="2090.85" stroke="#333" stroke-width="0.7"/>
<line x1="841.78" y1="2088.35" x2="841.78" y2="2090.85" stroke="#333" stroke-width="0.7"/>
<text x="841.78" y="2100.55" font-size="10.00" text-anchor="middle" fill="#1a1a1a">−40</text>
<line x1="1079.78" y1="2088.35" x2="1079.78" y2="2090.85" stroke="#333" stroke-width="0.7"/>
<line x1="871.90" y1="2088.35" x2="871.90" y2="2090.85" stroke="#333" stroke-width="0.7"/>
<text x="871.90" y="2100.55" font-size="10.00" text-anchor="middle" fill="#1a1a1a">−39</text>
<line x1="1109.90" y1="2088.35" x2="1109.90" y2="2090.85" stroke="#333" stroke-width="0.7"/>
<line x1="902.02" y1="2088.35" x2="902.02" y2="2090.85" stroke="#333" stroke-width="0.7"/>
<text x="902.02" y="2100.55" font-size="10.00" text-anchor="middle" fill="#1a1a1a">−38</text>
<line x1="1140.02" y1="2088.35" x2="1140.02" y2="2090.85" stroke="#333" stroke-width="0.7"/>
<text x="818.18" y="2121.80" font-size="9.70" text-anchor="middle" fill="#1a1a1a">Brightness Temperature [K]</text>
<rect x="718.10" y="2125.70" width="200.15" height="12.50" fill="url(#cbir)" stroke="#333" stroke-width="0.6"/>
<line x1="718.10" y1="2138.30" x2="718.10" y2="2140.30" stroke="#333" stroke-width="0.6"/>
<text x="718.10" y="2148.20" font-size="6.90" text-anchor="middle" fill="#1a1a1a">180</text>
<line x1="748.89" y1="2138.30" x2="748.89" y2="2140.30" stroke="#333" stroke-width="0.6"/>
<text x="748.89" y="2148.20" font-size="6.90" text-anchor="middle" fill="#1a1a1a">200</text>
<line x1="779.68" y1="2138.30" x2="779.68" y2="2140.30" stroke="#333" stroke-width="0.6"/>
<text x="779.68" y="2148.20" font-size="6.90" text-anchor="middle" fill="#1a1a1a">220</text>
<line x1="810.48" y1="2138.30" x2="810.48" y2="2140.30" stroke="#333" stroke-width="0.6"/>
<text x="810.48" y="2148.20" font-size="6.90" text-anchor="middle" fill="#1a1a1a">240</text>
<line x1="841.27" y1="2138.30" x2="841.27" y2="2140.30" stroke="#333" stroke-width="0.6"/>
<text x="841.27" y="2148.20" font-size="6.90" text-anchor="middle" fill="#1a1a1a">260</text>
<line x1="872.06" y1="2138.30" x2="872.06" y2="2140.30" stroke="#333" stroke-width="0.6"/>
<text x="872.06" y="2148.20" font-size="6.90" text-anchor="middle" fill="#1a1a1a">280</text>
<line x1="902.85" y1="2138.30" x2="902.85" y2="2140.30" stroke="#333" stroke-width="0.6"/>
<text x="902.85" y="2148.20" font-size="6.90" text-anchor="middle" fill="#1a1a1a">300</text>
<text x="1055.78" y="2121.80" font-size="9.70" text-anchor="middle" fill="#1a1a1a">SHAP Values</text>
<rect x="955.70" y="2125.70" width="200.15" height="12.50" fill="url(#cbse)" stroke="#333" stroke-width="0.6"/>
<line x1="984.29" y1="2138.30" x2="984.29" y2="2140.30" stroke="#333" stroke-width="0.6"/>
<text x="984.29" y="2150.60" font-size="10.00" text-anchor="middle" fill="#1a1a1a">−0.050</text>
<line x1="1020.03" y1="2138.30" x2="1020.03" y2="2140.30" stroke="#333" stroke-width="0.6"/>
<text x="1020.03" y="2150.60" font-size="10.00" text-anchor="middle" fill="#1a1a1a">−0.025</text>
<line x1="1055.78" y1="2138.30" x2="1055.78" y2="2140.30" stroke="#333" stroke-width="0.6"/>
<text x="1055.78" y="2150.60" font-size="10.00" text-anchor="middle" fill="#1a1a1a">0.000</text>
<line x1="1091.52" y1="2138.30" x2="1091.52" y2="2140.30" stroke="#333" stroke-width="0.6"/>
<text x="1091.52" y="2150.60" font-size="10.00" text-anchor="middle" fill="#1a1a1a">0.025</text>
<line x1="1127.26" y1="2138.30" x2="1127.26" y2="2140.30" stroke="#333" stroke-width="0.6"/>
<text x="1127.26" y="2150.60" font-size="10.00" text-anchor="middle" fill="#1a1a1a">0.050</text>
</g>
</svg></body></html>
